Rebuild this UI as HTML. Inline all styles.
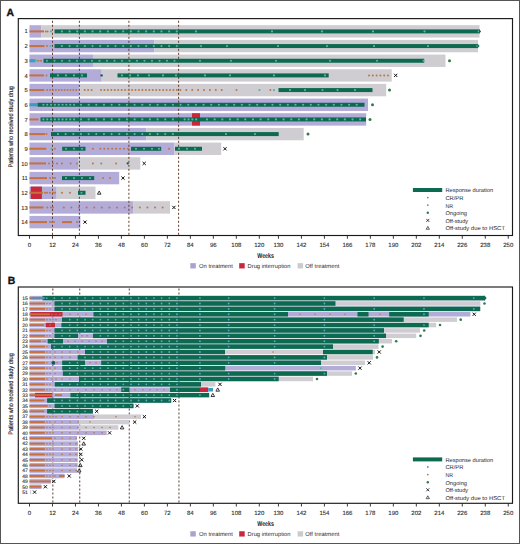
<!DOCTYPE html>
<html><head><meta charset="utf-8"><style>
html,body{margin:0;padding:0;background:#fff;}
svg{display:block;font-family:"Liberation Sans", sans-serif;text-rendering:geometricPrecision;}
</style></head><body>
<svg width="520" height="544" viewBox="0 0 520 544">
<rect x="0" y="0" width="520" height="544" fill="#fff"/>
<text x="6.40" y="15.90" font-size="10.4" text-anchor="start" font-weight="bold" fill="#111" stroke="#111" stroke-width="0.35">A</text>
<rect x="29.50" y="25.20" width="12.00" height="12.40" fill="#b3abd8"/>
<rect x="41.50" y="25.20" width="438.00" height="12.40" fill="#cfcdd2"/>
<rect x="29.50" y="39.87" width="125.00" height="12.40" fill="#b3abd8"/>
<rect x="154.50" y="39.87" width="323.50" height="12.40" fill="#cfcdd2"/>
<rect x="29.50" y="54.54" width="63.50" height="12.40" fill="#b3abd8"/>
<rect x="93.00" y="54.54" width="352.50" height="12.40" fill="#cfcdd2"/>
<rect x="29.50" y="69.21" width="72.20" height="12.40" fill="#b3abd8"/>
<rect x="101.70" y="69.21" width="290.00" height="12.40" fill="#cfcdd2"/>
<rect x="29.50" y="83.88" width="49.70" height="12.40" fill="#b3abd8"/>
<rect x="79.20" y="83.88" width="307.00" height="12.40" fill="#cfcdd2"/>
<rect x="29.50" y="98.55" width="338.50" height="12.40" fill="#b3abd8"/>
<rect x="29.50" y="113.22" width="336.70" height="12.40" fill="#b3abd8"/>
<rect x="192.00" y="113.22" width="8.00" height="12.40" fill="#c8283a"/>
<rect x="29.50" y="127.89" width="116.70" height="12.40" fill="#b3abd8"/>
<rect x="146.20" y="127.89" width="157.50" height="12.40" fill="#cfcdd2"/>
<rect x="29.50" y="142.56" width="145.00" height="12.40" fill="#b3abd8"/>
<rect x="174.50" y="142.56" width="46.70" height="12.40" fill="#cfcdd2"/>
<rect x="29.50" y="157.23" width="48.50" height="12.40" fill="#b3abd8"/>
<rect x="78.00" y="157.23" width="62.30" height="12.40" fill="#cfcdd2"/>
<rect x="29.50" y="171.90" width="89.70" height="12.40" fill="#b3abd8"/>
<rect x="29.50" y="186.57" width="27.20" height="12.40" fill="#b3abd8"/>
<rect x="56.70" y="186.57" width="38.80" height="12.40" fill="#cfcdd2"/>
<rect x="30.80" y="186.57" width="11.10" height="12.40" fill="#c8283a"/>
<rect x="29.50" y="201.24" width="104.00" height="12.40" fill="#b3abd8"/>
<rect x="133.50" y="201.24" width="36.50" height="12.40" fill="#cfcdd2"/>
<rect x="29.50" y="215.91" width="50.90" height="12.40" fill="#b3abd8"/>
<line x1="52.50" y1="20.80" x2="52.50" y2="235.50" stroke="#663a28" stroke-width="1.0" stroke-dasharray="2 2"/>
<line x1="79.40" y1="20.80" x2="79.40" y2="235.50" stroke="#663a28" stroke-width="1.0" stroke-dasharray="2 2"/>
<line x1="128.90" y1="20.80" x2="128.90" y2="235.50" stroke="#663a28" stroke-width="1.0" stroke-dasharray="2 2"/>
<line x1="178.60" y1="20.80" x2="178.60" y2="235.50" stroke="#663a28" stroke-width="1.0" stroke-dasharray="2 2"/>
<rect x="29.50" y="30.40" width="14.50" height="2.00" fill="#c8703c"/>
<rect x="54.50" y="29.40" width="425.00" height="4.00" fill="#0c6a50"/>
<circle cx="45.80" cy="31.40" r="1.00" fill="#b87845"/>
<circle cx="47.60" cy="31.40" r="1.00" fill="#b87845"/>
<circle cx="51.00" cy="31.40" r="1.10" fill="#5cb39f"/>
<circle cx="196.00" cy="31.40" r="1.10" fill="#5cb39f"/>
<circle cx="272.00" cy="31.40" r="1.10" fill="#5cb39f"/>
<circle cx="322.00" cy="31.40" r="1.10" fill="#5cb39f"/>
<circle cx="373.00" cy="31.40" r="1.10" fill="#5cb39f"/>
<circle cx="424.50" cy="31.40" r="1.10" fill="#5cb39f"/>
<circle cx="478.80" cy="31.40" r="1.10" fill="#5cb39f"/>
<circle cx="61.90" cy="31.40" r="1.10" fill="#5cb39f"/>
<circle cx="69.56" cy="31.40" r="1.10" fill="#5cb39f"/>
<circle cx="77.22" cy="31.40" r="1.10" fill="#5cb39f"/>
<circle cx="84.88" cy="31.40" r="1.10" fill="#5cb39f"/>
<circle cx="92.54" cy="31.40" r="1.10" fill="#5cb39f"/>
<circle cx="100.20" cy="31.40" r="1.10" fill="#5cb39f"/>
<circle cx="107.86" cy="31.40" r="1.10" fill="#5cb39f"/>
<circle cx="115.52" cy="31.40" r="1.10" fill="#5cb39f"/>
<circle cx="123.18" cy="31.40" r="1.10" fill="#5cb39f"/>
<circle cx="130.84" cy="31.40" r="1.10" fill="#5cb39f"/>
<circle cx="138.50" cy="31.40" r="1.10" fill="#5cb39f"/>
<circle cx="146.16" cy="31.40" r="1.10" fill="#5cb39f"/>
<circle cx="153.82" cy="31.40" r="1.10" fill="#5cb39f"/>
<circle cx="161.48" cy="31.40" r="1.10" fill="#5cb39f"/>
<circle cx="169.14" cy="31.40" r="1.10" fill="#5cb39f"/>
<circle cx="176.80" cy="31.40" r="1.10" fill="#5cb39f"/>
<path d="M479.00 29.10L481.10 31.40L479.00 33.70Z" fill="#0c6a50"/>
<rect x="29.50" y="45.07" width="15.00" height="2.00" fill="#c8703c"/>
<rect x="54.50" y="44.07" width="423.50" height="4.00" fill="#0c6a50"/>
<circle cx="47.00" cy="46.07" r="1.00" fill="#b87845"/>
<circle cx="50.50" cy="46.07" r="1.10" fill="#5cb39f"/>
<circle cx="201.00" cy="46.07" r="1.10" fill="#5cb39f"/>
<circle cx="227.00" cy="46.07" r="1.10" fill="#5cb39f"/>
<circle cx="278.00" cy="46.07" r="1.10" fill="#5cb39f"/>
<circle cx="327.00" cy="46.07" r="1.10" fill="#5cb39f"/>
<circle cx="374.00" cy="46.07" r="1.10" fill="#5cb39f"/>
<circle cx="428.00" cy="46.07" r="1.10" fill="#5cb39f"/>
<circle cx="477.30" cy="46.07" r="1.10" fill="#5cb39f"/>
<circle cx="61.90" cy="46.07" r="1.10" fill="#5cb39f"/>
<circle cx="69.56" cy="46.07" r="1.10" fill="#5cb39f"/>
<circle cx="77.22" cy="46.07" r="1.10" fill="#5cb39f"/>
<circle cx="84.88" cy="46.07" r="1.10" fill="#5cb39f"/>
<circle cx="92.54" cy="46.07" r="1.10" fill="#5cb39f"/>
<circle cx="100.20" cy="46.07" r="1.10" fill="#5cb39f"/>
<circle cx="107.86" cy="46.07" r="1.10" fill="#5cb39f"/>
<circle cx="115.52" cy="46.07" r="1.10" fill="#5cb39f"/>
<circle cx="123.18" cy="46.07" r="1.10" fill="#5cb39f"/>
<circle cx="130.84" cy="46.07" r="1.10" fill="#5cb39f"/>
<circle cx="138.50" cy="46.07" r="1.10" fill="#5cb39f"/>
<circle cx="146.16" cy="46.07" r="1.10" fill="#5cb39f"/>
<circle cx="153.82" cy="46.07" r="1.10" fill="#5cb39f"/>
<circle cx="161.48" cy="46.07" r="1.10" fill="#5cb39f"/>
<circle cx="169.14" cy="46.07" r="1.10" fill="#5cb39f"/>
<circle cx="176.80" cy="46.07" r="1.10" fill="#5cb39f"/>
<path d="M477.50 43.77L479.60 46.07L477.50 48.37Z" fill="#0c6a50"/>
<rect x="29.50" y="59.14" width="6.00" height="3.20" fill="#3b9dc0"/>
<rect x="43.50" y="58.74" width="380.70" height="4.00" fill="#0c6a50"/>
<circle cx="38.50" cy="60.74" r="1.00" fill="#b87845"/>
<circle cx="41.00" cy="60.74" r="1.00" fill="#b87845"/>
<circle cx="37.00" cy="60.74" r="1.10" fill="#5cb39f"/>
<circle cx="200.00" cy="60.74" r="1.10" fill="#5cb39f"/>
<circle cx="231.00" cy="60.74" r="1.10" fill="#5cb39f"/>
<circle cx="276.00" cy="60.74" r="1.10" fill="#5cb39f"/>
<circle cx="330.00" cy="60.74" r="1.10" fill="#5cb39f"/>
<circle cx="377.00" cy="60.74" r="1.10" fill="#5cb39f"/>
<circle cx="423.50" cy="60.74" r="1.10" fill="#5cb39f"/>
<circle cx="47.00" cy="60.74" r="1.10" fill="#5cb39f"/>
<circle cx="54.50" cy="60.74" r="1.10" fill="#5cb39f"/>
<circle cx="62.00" cy="60.74" r="1.10" fill="#5cb39f"/>
<circle cx="69.50" cy="60.74" r="1.10" fill="#5cb39f"/>
<circle cx="77.00" cy="60.74" r="1.10" fill="#5cb39f"/>
<circle cx="84.50" cy="60.74" r="1.10" fill="#5cb39f"/>
<circle cx="92.00" cy="60.74" r="1.10" fill="#5cb39f"/>
<circle cx="99.50" cy="60.74" r="1.10" fill="#5cb39f"/>
<circle cx="107.00" cy="60.74" r="1.10" fill="#5cb39f"/>
<circle cx="114.50" cy="60.74" r="1.10" fill="#5cb39f"/>
<circle cx="122.00" cy="60.74" r="1.10" fill="#5cb39f"/>
<circle cx="129.50" cy="60.74" r="1.10" fill="#5cb39f"/>
<circle cx="137.00" cy="60.74" r="1.10" fill="#5cb39f"/>
<circle cx="144.50" cy="60.74" r="1.10" fill="#5cb39f"/>
<circle cx="152.00" cy="60.74" r="1.10" fill="#5cb39f"/>
<circle cx="159.50" cy="60.74" r="1.10" fill="#5cb39f"/>
<circle cx="167.00" cy="60.74" r="1.10" fill="#5cb39f"/>
<circle cx="174.50" cy="60.74" r="1.10" fill="#5cb39f"/>
<circle cx="449.50" cy="60.74" r="1.50" fill="#2f7a47"/>
<rect x="29.50" y="74.41" width="14.50" height="2.00" fill="#c8703c"/>
<rect x="50.00" y="73.41" width="37.00" height="4.00" fill="#0c6a50"/>
<rect x="117.50" y="73.41" width="211.20" height="4.00" fill="#0c6a50"/>
<circle cx="369.00" cy="75.41" r="1.00" fill="#b87845"/>
<circle cx="372.80" cy="75.41" r="1.00" fill="#b87845"/>
<circle cx="376.60" cy="75.41" r="1.00" fill="#b87845"/>
<circle cx="380.40" cy="75.41" r="1.00" fill="#b87845"/>
<circle cx="384.20" cy="75.41" r="1.00" fill="#b87845"/>
<circle cx="388.00" cy="75.41" r="1.00" fill="#b87845"/>
<circle cx="46.50" cy="75.41" r="1.00" fill="#b87845"/>
<circle cx="58.00" cy="75.41" r="1.10" fill="#5cb39f"/>
<circle cx="66.00" cy="75.41" r="1.10" fill="#5cb39f"/>
<circle cx="74.00" cy="75.41" r="1.10" fill="#5cb39f"/>
<circle cx="82.00" cy="75.41" r="1.10" fill="#5cb39f"/>
<circle cx="122.00" cy="75.41" r="1.10" fill="#5cb39f"/>
<circle cx="130.00" cy="75.41" r="1.10" fill="#5cb39f"/>
<circle cx="138.00" cy="75.41" r="1.10" fill="#5cb39f"/>
<circle cx="149.00" cy="75.41" r="1.10" fill="#5cb39f"/>
<circle cx="163.00" cy="75.41" r="1.10" fill="#5cb39f"/>
<circle cx="176.00" cy="75.41" r="1.10" fill="#5cb39f"/>
<circle cx="205.00" cy="75.41" r="1.10" fill="#5cb39f"/>
<circle cx="230.00" cy="75.41" r="1.10" fill="#5cb39f"/>
<circle cx="274.00" cy="75.41" r="1.10" fill="#5cb39f"/>
<circle cx="325.00" cy="75.41" r="1.10" fill="#5cb39f"/>
<circle cx="101.60" cy="75.41" r="1.20" fill="#0d5a55"/>
<path d="M394.10 73.81L397.30 77.01M397.30 73.81L394.10 77.01" stroke="#111" stroke-width="1.0" fill="none"/>
<rect x="29.50" y="89.08" width="14.80" height="2.00" fill="#c8703c"/>
<rect x="278.50" y="88.08" width="94.00" height="4.00" fill="#0c6a50"/>
<circle cx="47.20" cy="90.08" r="1.00" fill="#b87845"/>
<circle cx="50.10" cy="90.08" r="1.00" fill="#b87845"/>
<circle cx="53.00" cy="90.08" r="1.00" fill="#b87845"/>
<circle cx="55.90" cy="90.08" r="1.00" fill="#b87845"/>
<circle cx="58.80" cy="90.08" r="1.00" fill="#b87845"/>
<circle cx="61.70" cy="90.08" r="1.00" fill="#b87845"/>
<circle cx="64.60" cy="90.08" r="1.00" fill="#b87845"/>
<circle cx="67.50" cy="90.08" r="1.00" fill="#b87845"/>
<circle cx="70.40" cy="90.08" r="1.00" fill="#b87845"/>
<circle cx="73.30" cy="90.08" r="1.00" fill="#b87845"/>
<circle cx="76.20" cy="90.08" r="1.00" fill="#b87845"/>
<circle cx="84.70" cy="90.08" r="1.00" fill="#b87845"/>
<circle cx="88.15" cy="90.08" r="1.00" fill="#b87845"/>
<circle cx="91.60" cy="90.08" r="1.00" fill="#b87845"/>
<circle cx="101.00" cy="90.08" r="1.00" fill="#b87845"/>
<circle cx="104.45" cy="90.08" r="1.00" fill="#b87845"/>
<circle cx="107.90" cy="90.08" r="1.00" fill="#b87845"/>
<circle cx="111.35" cy="90.08" r="1.00" fill="#b87845"/>
<circle cx="114.80" cy="90.08" r="1.00" fill="#b87845"/>
<circle cx="118.25" cy="90.08" r="1.00" fill="#b87845"/>
<circle cx="121.70" cy="90.08" r="1.00" fill="#b87845"/>
<circle cx="125.15" cy="90.08" r="1.00" fill="#b87845"/>
<circle cx="128.60" cy="90.08" r="1.00" fill="#b87845"/>
<circle cx="132.05" cy="90.08" r="1.00" fill="#b87845"/>
<circle cx="135.50" cy="90.08" r="1.00" fill="#b87845"/>
<circle cx="138.95" cy="90.08" r="1.00" fill="#b87845"/>
<circle cx="142.40" cy="90.08" r="1.00" fill="#b87845"/>
<circle cx="145.85" cy="90.08" r="1.00" fill="#b87845"/>
<circle cx="149.30" cy="90.08" r="1.00" fill="#b87845"/>
<circle cx="152.75" cy="90.08" r="1.00" fill="#b87845"/>
<circle cx="156.20" cy="90.08" r="1.00" fill="#b87845"/>
<circle cx="159.65" cy="90.08" r="1.00" fill="#b87845"/>
<circle cx="163.10" cy="90.08" r="1.00" fill="#b87845"/>
<circle cx="166.55" cy="90.08" r="1.00" fill="#b87845"/>
<circle cx="170.00" cy="90.08" r="1.00" fill="#b87845"/>
<circle cx="173.45" cy="90.08" r="1.00" fill="#b87845"/>
<circle cx="176.90" cy="90.08" r="1.00" fill="#b87845"/>
<circle cx="180.35" cy="90.08" r="1.00" fill="#b87845"/>
<circle cx="186.30" cy="90.08" r="1.00" fill="#b87845"/>
<circle cx="192.20" cy="90.08" r="1.00" fill="#b87845"/>
<circle cx="198.10" cy="90.08" r="1.00" fill="#b87845"/>
<circle cx="204.00" cy="90.08" r="1.00" fill="#b87845"/>
<circle cx="209.90" cy="90.08" r="1.00" fill="#b87845"/>
<circle cx="215.80" cy="90.08" r="1.00" fill="#b87845"/>
<circle cx="221.70" cy="90.08" r="1.00" fill="#b87845"/>
<circle cx="236.50" cy="90.08" r="1.00" fill="#b87845"/>
<circle cx="270.40" cy="90.08" r="1.00" fill="#b87845"/>
<circle cx="259.40" cy="90.08" r="1.10" fill="#5cb39f"/>
<circle cx="274.00" cy="90.08" r="1.10" fill="#5cb39f"/>
<circle cx="290.00" cy="90.08" r="1.10" fill="#5cb39f"/>
<circle cx="305.00" cy="90.08" r="1.10" fill="#5cb39f"/>
<circle cx="322.50" cy="90.08" r="1.10" fill="#5cb39f"/>
<circle cx="337.50" cy="90.08" r="1.10" fill="#5cb39f"/>
<circle cx="355.00" cy="90.08" r="1.10" fill="#5cb39f"/>
<circle cx="389.50" cy="90.08" r="1.50" fill="#2f7a47"/>
<rect x="29.50" y="103.15" width="8.10" height="3.20" fill="#3b9dc0"/>
<rect x="37.60" y="102.75" width="326.90" height="4.00" fill="#0c6a50"/>
<circle cx="43.40" cy="104.75" r="1.10" fill="#5cb39f"/>
<circle cx="47.23" cy="104.75" r="1.10" fill="#5cb39f"/>
<circle cx="51.06" cy="104.75" r="1.10" fill="#5cb39f"/>
<circle cx="54.89" cy="104.75" r="1.10" fill="#5cb39f"/>
<circle cx="58.72" cy="104.75" r="1.10" fill="#5cb39f"/>
<circle cx="62.55" cy="104.75" r="1.10" fill="#5cb39f"/>
<circle cx="66.38" cy="104.75" r="1.10" fill="#5cb39f"/>
<circle cx="70.21" cy="104.75" r="1.10" fill="#5cb39f"/>
<circle cx="74.04" cy="104.75" r="1.10" fill="#5cb39f"/>
<circle cx="81.00" cy="104.75" r="1.10" fill="#5cb39f"/>
<circle cx="88.66" cy="104.75" r="1.10" fill="#5cb39f"/>
<circle cx="96.32" cy="104.75" r="1.10" fill="#5cb39f"/>
<circle cx="103.98" cy="104.75" r="1.10" fill="#5cb39f"/>
<circle cx="111.64" cy="104.75" r="1.10" fill="#5cb39f"/>
<circle cx="119.30" cy="104.75" r="1.10" fill="#5cb39f"/>
<circle cx="126.96" cy="104.75" r="1.10" fill="#5cb39f"/>
<circle cx="134.62" cy="104.75" r="1.10" fill="#5cb39f"/>
<circle cx="142.28" cy="104.75" r="1.10" fill="#5cb39f"/>
<circle cx="149.94" cy="104.75" r="1.10" fill="#5cb39f"/>
<circle cx="157.60" cy="104.75" r="1.10" fill="#5cb39f"/>
<circle cx="165.26" cy="104.75" r="1.10" fill="#5cb39f"/>
<circle cx="172.92" cy="104.75" r="1.10" fill="#5cb39f"/>
<circle cx="180.58" cy="104.75" r="1.10" fill="#5cb39f"/>
<circle cx="188.24" cy="104.75" r="1.10" fill="#5cb39f"/>
<circle cx="195.90" cy="104.75" r="1.10" fill="#5cb39f"/>
<circle cx="203.56" cy="104.75" r="1.10" fill="#5cb39f"/>
<circle cx="211.22" cy="104.75" r="1.10" fill="#5cb39f"/>
<circle cx="218.88" cy="104.75" r="1.10" fill="#5cb39f"/>
<circle cx="226.54" cy="104.75" r="1.10" fill="#5cb39f"/>
<circle cx="234.20" cy="104.75" r="1.10" fill="#5cb39f"/>
<circle cx="241.86" cy="104.75" r="1.10" fill="#5cb39f"/>
<circle cx="249.52" cy="104.75" r="1.10" fill="#5cb39f"/>
<circle cx="257.18" cy="104.75" r="1.10" fill="#5cb39f"/>
<circle cx="264.84" cy="104.75" r="1.10" fill="#5cb39f"/>
<circle cx="272.50" cy="104.75" r="1.10" fill="#5cb39f"/>
<circle cx="280.16" cy="104.75" r="1.10" fill="#5cb39f"/>
<circle cx="287.82" cy="104.75" r="1.10" fill="#5cb39f"/>
<circle cx="295.48" cy="104.75" r="1.10" fill="#5cb39f"/>
<circle cx="303.14" cy="104.75" r="1.10" fill="#5cb39f"/>
<circle cx="310.80" cy="104.75" r="1.10" fill="#5cb39f"/>
<circle cx="318.46" cy="104.75" r="1.10" fill="#5cb39f"/>
<circle cx="326.12" cy="104.75" r="1.10" fill="#5cb39f"/>
<circle cx="333.78" cy="104.75" r="1.10" fill="#5cb39f"/>
<circle cx="341.44" cy="104.75" r="1.10" fill="#5cb39f"/>
<circle cx="349.10" cy="104.75" r="1.10" fill="#5cb39f"/>
<circle cx="356.76" cy="104.75" r="1.10" fill="#5cb39f"/>
<circle cx="372.50" cy="104.75" r="1.50" fill="#2f7a47"/>
<rect x="29.50" y="118.42" width="9.10" height="2.00" fill="#c8703c"/>
<rect x="40.50" y="117.42" width="325.50" height="4.00" fill="#0c6a50"/>
<circle cx="43.40" cy="119.42" r="1.10" fill="#5cb39f"/>
<circle cx="47.23" cy="119.42" r="1.10" fill="#5cb39f"/>
<circle cx="51.06" cy="119.42" r="1.10" fill="#5cb39f"/>
<circle cx="54.89" cy="119.42" r="1.10" fill="#5cb39f"/>
<circle cx="58.72" cy="119.42" r="1.10" fill="#5cb39f"/>
<circle cx="62.55" cy="119.42" r="1.10" fill="#5cb39f"/>
<circle cx="66.38" cy="119.42" r="1.10" fill="#5cb39f"/>
<circle cx="70.21" cy="119.42" r="1.10" fill="#5cb39f"/>
<circle cx="74.04" cy="119.42" r="1.10" fill="#5cb39f"/>
<circle cx="81.00" cy="119.42" r="1.10" fill="#5cb39f"/>
<circle cx="88.66" cy="119.42" r="1.10" fill="#5cb39f"/>
<circle cx="96.32" cy="119.42" r="1.10" fill="#5cb39f"/>
<circle cx="103.98" cy="119.42" r="1.10" fill="#5cb39f"/>
<circle cx="111.64" cy="119.42" r="1.10" fill="#5cb39f"/>
<circle cx="119.30" cy="119.42" r="1.10" fill="#5cb39f"/>
<circle cx="126.96" cy="119.42" r="1.10" fill="#5cb39f"/>
<circle cx="134.62" cy="119.42" r="1.10" fill="#5cb39f"/>
<circle cx="142.28" cy="119.42" r="1.10" fill="#5cb39f"/>
<circle cx="149.94" cy="119.42" r="1.10" fill="#5cb39f"/>
<circle cx="157.60" cy="119.42" r="1.10" fill="#5cb39f"/>
<circle cx="165.26" cy="119.42" r="1.10" fill="#5cb39f"/>
<circle cx="172.92" cy="119.42" r="1.10" fill="#5cb39f"/>
<circle cx="184.70" cy="119.42" r="1.10" fill="#5cb39f"/>
<circle cx="188.53" cy="119.42" r="1.10" fill="#5cb39f"/>
<circle cx="192.36" cy="119.42" r="1.10" fill="#5cb39f"/>
<circle cx="196.19" cy="119.42" r="1.10" fill="#5cb39f"/>
<circle cx="207.00" cy="119.42" r="1.10" fill="#5cb39f"/>
<circle cx="214.66" cy="119.42" r="1.10" fill="#5cb39f"/>
<circle cx="222.32" cy="119.42" r="1.10" fill="#5cb39f"/>
<circle cx="229.98" cy="119.42" r="1.10" fill="#5cb39f"/>
<circle cx="237.64" cy="119.42" r="1.10" fill="#5cb39f"/>
<circle cx="245.30" cy="119.42" r="1.10" fill="#5cb39f"/>
<circle cx="252.96" cy="119.42" r="1.10" fill="#5cb39f"/>
<circle cx="260.62" cy="119.42" r="1.10" fill="#5cb39f"/>
<circle cx="268.28" cy="119.42" r="1.10" fill="#5cb39f"/>
<circle cx="275.94" cy="119.42" r="1.10" fill="#5cb39f"/>
<circle cx="283.60" cy="119.42" r="1.10" fill="#5cb39f"/>
<circle cx="291.26" cy="119.42" r="1.10" fill="#5cb39f"/>
<circle cx="298.92" cy="119.42" r="1.10" fill="#5cb39f"/>
<circle cx="306.58" cy="119.42" r="1.10" fill="#5cb39f"/>
<circle cx="314.24" cy="119.42" r="1.10" fill="#5cb39f"/>
<circle cx="321.90" cy="119.42" r="1.10" fill="#5cb39f"/>
<circle cx="329.56" cy="119.42" r="1.10" fill="#5cb39f"/>
<circle cx="337.22" cy="119.42" r="1.10" fill="#5cb39f"/>
<circle cx="344.88" cy="119.42" r="1.10" fill="#5cb39f"/>
<circle cx="352.54" cy="119.42" r="1.10" fill="#5cb39f"/>
<circle cx="360.20" cy="119.42" r="1.10" fill="#5cb39f"/>
<circle cx="370.00" cy="119.42" r="1.50" fill="#2f7a47"/>
<rect x="29.50" y="133.09" width="15.50" height="2.00" fill="#c8703c"/>
<rect x="51.00" y="132.09" width="227.70" height="4.00" fill="#0c6a50"/>
<circle cx="46.50" cy="134.09" r="1.00" fill="#b87845"/>
<circle cx="226.00" cy="134.09" r="1.10" fill="#5cb39f"/>
<circle cx="255.00" cy="134.09" r="1.10" fill="#5cb39f"/>
<circle cx="58.00" cy="134.09" r="1.10" fill="#5cb39f"/>
<circle cx="65.66" cy="134.09" r="1.10" fill="#5cb39f"/>
<circle cx="73.32" cy="134.09" r="1.10" fill="#5cb39f"/>
<circle cx="80.98" cy="134.09" r="1.10" fill="#5cb39f"/>
<circle cx="88.64" cy="134.09" r="1.10" fill="#5cb39f"/>
<circle cx="96.30" cy="134.09" r="1.10" fill="#5cb39f"/>
<circle cx="103.96" cy="134.09" r="1.10" fill="#5cb39f"/>
<circle cx="111.62" cy="134.09" r="1.10" fill="#5cb39f"/>
<circle cx="119.28" cy="134.09" r="1.10" fill="#5cb39f"/>
<circle cx="126.94" cy="134.09" r="1.10" fill="#5cb39f"/>
<circle cx="134.60" cy="134.09" r="1.10" fill="#5cb39f"/>
<circle cx="142.26" cy="134.09" r="1.10" fill="#5cb39f"/>
<circle cx="149.92" cy="134.09" r="1.10" fill="#5cb39f"/>
<circle cx="157.58" cy="134.09" r="1.10" fill="#5cb39f"/>
<circle cx="165.24" cy="134.09" r="1.10" fill="#5cb39f"/>
<circle cx="172.90" cy="134.09" r="1.10" fill="#5cb39f"/>
<circle cx="308.00" cy="134.09" r="1.50" fill="#2f7a47"/>
<rect x="29.50" y="147.76" width="16.80" height="2.00" fill="#c8703c"/>
<rect x="62.20" y="146.76" width="23.30" height="4.00" fill="#0c6a50"/>
<rect x="131.00" y="146.76" width="30.20" height="4.00" fill="#0c6a50"/>
<rect x="175.00" y="146.76" width="27.00" height="4.00" fill="#0c6a50"/>
<circle cx="100.30" cy="148.76" r="1.00" fill="#b87845"/>
<circle cx="104.25" cy="148.76" r="1.00" fill="#b87845"/>
<circle cx="108.20" cy="148.76" r="1.00" fill="#b87845"/>
<circle cx="112.15" cy="148.76" r="1.00" fill="#b87845"/>
<circle cx="116.10" cy="148.76" r="1.00" fill="#b87845"/>
<circle cx="120.05" cy="148.76" r="1.00" fill="#b87845"/>
<circle cx="124.00" cy="148.76" r="1.00" fill="#b87845"/>
<circle cx="127.95" cy="148.76" r="1.00" fill="#b87845"/>
<circle cx="54.80" cy="148.76" r="1.00" fill="#b87845"/>
<circle cx="92.90" cy="148.76" r="1.00" fill="#b87845"/>
<circle cx="169.00" cy="148.76" r="1.00" fill="#b87845"/>
<circle cx="51.50" cy="148.76" r="1.10" fill="#5cb39f"/>
<circle cx="66.00" cy="148.76" r="1.10" fill="#5cb39f"/>
<circle cx="74.00" cy="148.76" r="1.10" fill="#5cb39f"/>
<circle cx="82.00" cy="148.76" r="1.10" fill="#5cb39f"/>
<circle cx="136.00" cy="148.76" r="1.10" fill="#5cb39f"/>
<circle cx="144.00" cy="148.76" r="1.10" fill="#5cb39f"/>
<circle cx="152.00" cy="148.76" r="1.10" fill="#5cb39f"/>
<circle cx="159.00" cy="148.76" r="1.10" fill="#5cb39f"/>
<circle cx="179.00" cy="148.76" r="1.10" fill="#5cb39f"/>
<circle cx="187.00" cy="148.76" r="1.10" fill="#5cb39f"/>
<circle cx="195.00" cy="148.76" r="1.10" fill="#5cb39f"/>
<path d="M223.40 147.16L226.60 150.36M226.60 147.16L223.40 150.36" stroke="#111" stroke-width="1.0" fill="none"/>
<rect x="29.50" y="162.43" width="16.50" height="2.00" fill="#c8703c"/>
<circle cx="49.00" cy="163.43" r="1.00" fill="#b87845"/>
<circle cx="53.00" cy="163.43" r="1.00" fill="#b87845"/>
<circle cx="57.00" cy="163.43" r="1.00" fill="#b87845"/>
<circle cx="62.00" cy="163.43" r="1.00" fill="#b87845"/>
<circle cx="70.60" cy="163.43" r="1.00" fill="#b87845"/>
<circle cx="77.00" cy="163.43" r="1.00" fill="#b87845"/>
<circle cx="92.90" cy="163.43" r="1.00" fill="#b87845"/>
<circle cx="101.30" cy="163.43" r="1.00" fill="#b87845"/>
<circle cx="116.10" cy="163.43" r="1.00" fill="#b87845"/>
<circle cx="127.70" cy="163.43" r="1.10" fill="#0d5a55"/>
<path d="M142.60 161.83L145.80 165.03M145.80 161.83L142.60 165.03" stroke="#111" stroke-width="1.0" fill="none"/>
<rect x="29.50" y="177.10" width="17.50" height="2.00" fill="#c8703c"/>
<rect x="62.00" y="176.10" width="32.20" height="4.00" fill="#0c6a50"/>
<circle cx="50.00" cy="178.10" r="1.00" fill="#b87845"/>
<circle cx="53.00" cy="178.10" r="1.00" fill="#b87845"/>
<circle cx="55.00" cy="178.10" r="1.00" fill="#b87845"/>
<circle cx="103.00" cy="178.10" r="1.00" fill="#b87845"/>
<circle cx="110.00" cy="178.10" r="1.00" fill="#b87845"/>
<circle cx="66.00" cy="178.10" r="1.10" fill="#5cb39f"/>
<circle cx="74.00" cy="178.10" r="1.10" fill="#5cb39f"/>
<circle cx="82.00" cy="178.10" r="1.10" fill="#5cb39f"/>
<circle cx="90.00" cy="178.10" r="1.10" fill="#5cb39f"/>
<path d="M121.40 176.50L124.60 179.70M124.60 176.50L121.40 179.70" stroke="#111" stroke-width="1.0" fill="none"/>
<rect x="29.50" y="191.77" width="13.50" height="2.00" fill="#c8703c"/>
<rect x="78.00" y="190.77" width="7.50" height="4.00" fill="#0c6a50"/>
<circle cx="45.00" cy="192.77" r="1.00" fill="#b87845"/>
<circle cx="47.00" cy="192.77" r="1.00" fill="#b87845"/>
<circle cx="50.00" cy="192.77" r="1.00" fill="#b87845"/>
<circle cx="53.00" cy="192.77" r="1.00" fill="#b87845"/>
<circle cx="55.00" cy="192.77" r="1.00" fill="#b87845"/>
<circle cx="62.00" cy="192.77" r="1.00" fill="#b87845"/>
<circle cx="70.00" cy="192.77" r="1.00" fill="#b87845"/>
<circle cx="81.50" cy="192.77" r="1.10" fill="#5cb39f"/>
<path d="M99.20 190.97L101.00 194.21L97.40 194.21Z" stroke="#222" stroke-width="0.9" fill="none"/>
<rect x="29.50" y="206.44" width="14.00" height="2.00" fill="#c8703c"/>
<circle cx="63.80" cy="207.44" r="1.00" fill="#b87845"/>
<circle cx="71.40" cy="207.44" r="1.00" fill="#b87845"/>
<circle cx="79.00" cy="207.44" r="1.00" fill="#b87845"/>
<circle cx="86.60" cy="207.44" r="1.00" fill="#b87845"/>
<circle cx="94.20" cy="207.44" r="1.00" fill="#b87845"/>
<circle cx="101.80" cy="207.44" r="1.00" fill="#b87845"/>
<circle cx="109.40" cy="207.44" r="1.00" fill="#b87845"/>
<circle cx="117.00" cy="207.44" r="1.00" fill="#b87845"/>
<circle cx="124.60" cy="207.44" r="1.00" fill="#b87845"/>
<circle cx="132.20" cy="207.44" r="1.00" fill="#b87845"/>
<circle cx="139.80" cy="207.44" r="1.00" fill="#b87845"/>
<circle cx="147.40" cy="207.44" r="1.00" fill="#b87845"/>
<circle cx="155.00" cy="207.44" r="1.00" fill="#b87845"/>
<circle cx="162.60" cy="207.44" r="1.00" fill="#b87845"/>
<circle cx="47.30" cy="207.44" r="1.00" fill="#b87845"/>
<circle cx="51.00" cy="207.44" r="1.00" fill="#b87845"/>
<circle cx="53.00" cy="207.44" r="1.00" fill="#b87845"/>
<path d="M172.30 205.84L175.50 209.04M175.50 205.84L172.30 209.04" stroke="#111" stroke-width="1.0" fill="none"/>
<rect x="29.50" y="221.11" width="17.50" height="2.00" fill="#c8703c"/>
<rect x="62.00" y="221.11" width="10.00" height="2.00" fill="#c8703c"/>
<circle cx="50.00" cy="222.11" r="1.00" fill="#b87845"/>
<circle cx="52.00" cy="222.11" r="1.00" fill="#b87845"/>
<circle cx="54.00" cy="222.11" r="1.00" fill="#b87845"/>
<circle cx="77.00" cy="222.11" r="1.00" fill="#b87845"/>
<path d="M83.40 220.51L86.60 223.71M86.60 220.51L83.40 223.71" stroke="#111" stroke-width="1.0" fill="none"/>
<rect x="18.3" y="18.60" width="494.2" height="216.90" fill="none" stroke="#1a1a1a" stroke-width="1.15"/>
<text x="27.80" y="33.49" font-size="5.8" text-anchor="end" font-weight="normal" fill="#2a2a2a" stroke="#2a2a2a" stroke-width="0.1">1</text>
<text x="27.80" y="48.16" font-size="5.8" text-anchor="end" font-weight="normal" fill="#2a2a2a" stroke="#2a2a2a" stroke-width="0.1">2</text>
<text x="27.80" y="62.83" font-size="5.8" text-anchor="end" font-weight="normal" fill="#2a2a2a" stroke="#2a2a2a" stroke-width="0.1">3</text>
<text x="27.80" y="77.50" font-size="5.8" text-anchor="end" font-weight="normal" fill="#2a2a2a" stroke="#2a2a2a" stroke-width="0.1">4</text>
<text x="27.80" y="92.17" font-size="5.8" text-anchor="end" font-weight="normal" fill="#2a2a2a" stroke="#2a2a2a" stroke-width="0.1">5</text>
<text x="27.80" y="106.84" font-size="5.8" text-anchor="end" font-weight="normal" fill="#2a2a2a" stroke="#2a2a2a" stroke-width="0.1">6</text>
<text x="27.80" y="121.51" font-size="5.8" text-anchor="end" font-weight="normal" fill="#2a2a2a" stroke="#2a2a2a" stroke-width="0.1">7</text>
<text x="27.80" y="136.18" font-size="5.8" text-anchor="end" font-weight="normal" fill="#2a2a2a" stroke="#2a2a2a" stroke-width="0.1">8</text>
<text x="27.80" y="150.85" font-size="5.8" text-anchor="end" font-weight="normal" fill="#2a2a2a" stroke="#2a2a2a" stroke-width="0.1">9</text>
<text x="27.80" y="165.52" font-size="5.8" text-anchor="end" font-weight="normal" fill="#2a2a2a" stroke="#2a2a2a" stroke-width="0.1">10</text>
<text x="27.80" y="180.19" font-size="5.8" text-anchor="end" font-weight="normal" fill="#2a2a2a" stroke="#2a2a2a" stroke-width="0.1">11</text>
<text x="27.80" y="194.86" font-size="5.8" text-anchor="end" font-weight="normal" fill="#2a2a2a" stroke="#2a2a2a" stroke-width="0.1">12</text>
<text x="27.80" y="209.53" font-size="5.8" text-anchor="end" font-weight="normal" fill="#2a2a2a" stroke="#2a2a2a" stroke-width="0.1">13</text>
<text x="27.80" y="224.20" font-size="5.8" text-anchor="end" font-weight="normal" fill="#2a2a2a" stroke="#2a2a2a" stroke-width="0.1">14</text>
<line x1="29.50" y1="235.50" x2="29.50" y2="238.70" stroke="#222" stroke-width="0.9"/>
<text x="29.50" y="246.70" font-size="6.0" text-anchor="middle" font-weight="normal" fill="#2a2a2a" stroke="#2a2a2a" stroke-width="0.1">0</text>
<line x1="52.48" y1="235.50" x2="52.48" y2="238.70" stroke="#222" stroke-width="0.9"/>
<text x="52.48" y="246.70" font-size="6.0" text-anchor="middle" font-weight="normal" fill="#2a2a2a" stroke="#2a2a2a" stroke-width="0.1">12</text>
<line x1="75.46" y1="235.50" x2="75.46" y2="238.70" stroke="#222" stroke-width="0.9"/>
<text x="75.46" y="246.70" font-size="6.0" text-anchor="middle" font-weight="normal" fill="#2a2a2a" stroke="#2a2a2a" stroke-width="0.1">24</text>
<line x1="98.44" y1="235.50" x2="98.44" y2="238.70" stroke="#222" stroke-width="0.9"/>
<text x="98.44" y="246.70" font-size="6.0" text-anchor="middle" font-weight="normal" fill="#2a2a2a" stroke="#2a2a2a" stroke-width="0.1">36</text>
<line x1="121.42" y1="235.50" x2="121.42" y2="238.70" stroke="#222" stroke-width="0.9"/>
<text x="121.42" y="246.70" font-size="6.0" text-anchor="middle" font-weight="normal" fill="#2a2a2a" stroke="#2a2a2a" stroke-width="0.1">48</text>
<line x1="144.40" y1="235.50" x2="144.40" y2="238.70" stroke="#222" stroke-width="0.9"/>
<text x="144.40" y="246.70" font-size="6.0" text-anchor="middle" font-weight="normal" fill="#2a2a2a" stroke="#2a2a2a" stroke-width="0.1">60</text>
<line x1="167.38" y1="235.50" x2="167.38" y2="238.70" stroke="#222" stroke-width="0.9"/>
<text x="167.38" y="246.70" font-size="6.0" text-anchor="middle" font-weight="normal" fill="#2a2a2a" stroke="#2a2a2a" stroke-width="0.1">72</text>
<line x1="190.36" y1="235.50" x2="190.36" y2="238.70" stroke="#222" stroke-width="0.9"/>
<text x="190.36" y="246.70" font-size="6.0" text-anchor="middle" font-weight="normal" fill="#2a2a2a" stroke="#2a2a2a" stroke-width="0.1">84</text>
<line x1="213.34" y1="235.50" x2="213.34" y2="238.70" stroke="#222" stroke-width="0.9"/>
<text x="213.34" y="246.70" font-size="6.0" text-anchor="middle" font-weight="normal" fill="#2a2a2a" stroke="#2a2a2a" stroke-width="0.1">96</text>
<line x1="236.32" y1="235.50" x2="236.32" y2="238.70" stroke="#222" stroke-width="0.9"/>
<text x="236.32" y="246.70" font-size="6.0" text-anchor="middle" font-weight="normal" fill="#2a2a2a" stroke="#2a2a2a" stroke-width="0.1">108</text>
<line x1="259.30" y1="235.50" x2="259.30" y2="238.70" stroke="#222" stroke-width="0.9"/>
<text x="259.30" y="246.70" font-size="6.0" text-anchor="middle" font-weight="normal" fill="#2a2a2a" stroke="#2a2a2a" stroke-width="0.1">120</text>
<line x1="278.45" y1="235.50" x2="278.45" y2="238.70" stroke="#222" stroke-width="0.9"/>
<text x="278.45" y="246.70" font-size="6.0" text-anchor="middle" font-weight="normal" fill="#2a2a2a" stroke="#2a2a2a" stroke-width="0.1">130</text>
<line x1="301.43" y1="235.50" x2="301.43" y2="238.70" stroke="#222" stroke-width="0.9"/>
<text x="301.43" y="246.70" font-size="6.0" text-anchor="middle" font-weight="normal" fill="#2a2a2a" stroke="#2a2a2a" stroke-width="0.1">142</text>
<line x1="324.41" y1="235.50" x2="324.41" y2="238.70" stroke="#222" stroke-width="0.9"/>
<text x="324.41" y="246.70" font-size="6.0" text-anchor="middle" font-weight="normal" fill="#2a2a2a" stroke="#2a2a2a" stroke-width="0.1">154</text>
<line x1="347.39" y1="235.50" x2="347.39" y2="238.70" stroke="#222" stroke-width="0.9"/>
<text x="347.39" y="246.70" font-size="6.0" text-anchor="middle" font-weight="normal" fill="#2a2a2a" stroke="#2a2a2a" stroke-width="0.1">166</text>
<line x1="370.37" y1="235.50" x2="370.37" y2="238.70" stroke="#222" stroke-width="0.9"/>
<text x="370.37" y="246.70" font-size="6.0" text-anchor="middle" font-weight="normal" fill="#2a2a2a" stroke="#2a2a2a" stroke-width="0.1">178</text>
<line x1="393.35" y1="235.50" x2="393.35" y2="238.70" stroke="#222" stroke-width="0.9"/>
<text x="393.35" y="246.70" font-size="6.0" text-anchor="middle" font-weight="normal" fill="#2a2a2a" stroke="#2a2a2a" stroke-width="0.1">190</text>
<line x1="416.33" y1="235.50" x2="416.33" y2="238.70" stroke="#222" stroke-width="0.9"/>
<text x="416.33" y="246.70" font-size="6.0" text-anchor="middle" font-weight="normal" fill="#2a2a2a" stroke="#2a2a2a" stroke-width="0.1">202</text>
<line x1="439.31" y1="235.50" x2="439.31" y2="238.70" stroke="#222" stroke-width="0.9"/>
<text x="439.31" y="246.70" font-size="6.0" text-anchor="middle" font-weight="normal" fill="#2a2a2a" stroke="#2a2a2a" stroke-width="0.1">214</text>
<line x1="462.29" y1="235.50" x2="462.29" y2="238.70" stroke="#222" stroke-width="0.9"/>
<text x="462.29" y="246.70" font-size="6.0" text-anchor="middle" font-weight="normal" fill="#2a2a2a" stroke="#2a2a2a" stroke-width="0.1">226</text>
<line x1="485.27" y1="235.50" x2="485.27" y2="238.70" stroke="#222" stroke-width="0.9"/>
<text x="485.27" y="246.70" font-size="6.0" text-anchor="middle" font-weight="normal" fill="#2a2a2a" stroke="#2a2a2a" stroke-width="0.1">238</text>
<line x1="508.25" y1="235.50" x2="508.25" y2="238.70" stroke="#222" stroke-width="0.9"/>
<text x="508.25" y="246.70" font-size="6.0" text-anchor="middle" font-weight="normal" fill="#2a2a2a" stroke="#2a2a2a" stroke-width="0.1">250</text>
<text x="265.6" y="258.00" font-size="7.0" text-anchor="middle" font-weight="bold" fill="#222" textLength="16.6" lengthAdjust="spacingAndGlyphs">Weeks</text>
<text transform="translate(12.9,126.80) rotate(-90)" x="0" y="0" font-size="6.6" text-anchor="middle" fill="#222" stroke="#222" stroke-width="0.15" textLength="81.5" lengthAdjust="spacingAndGlyphs">Patients who received study drug</text>
<rect x="412.90" y="188.00" width="29.30" height="4.00" fill="#0c6a50"/>
<text x="445.40" y="192.30" font-size="5.6" text-anchor="start" font-weight="normal" fill="#2a2a2a" textLength="47.8" lengthAdjust="spacingAndGlyphs">Response duration</text>
<text x="445.40" y="199.90" font-size="5.6" text-anchor="start" font-weight="normal" fill="#2a2a2a" textLength="18.0" lengthAdjust="spacingAndGlyphs">CR/PR</text>
<text x="445.40" y="207.50" font-size="5.6" text-anchor="start" font-weight="normal" fill="#2a2a2a" textLength="7.6" lengthAdjust="spacingAndGlyphs">NR</text>
<text x="445.40" y="215.10" font-size="5.6" text-anchor="start" font-weight="normal" fill="#2a2a2a" textLength="21.6" lengthAdjust="spacingAndGlyphs">Ongoing</text>
<text x="445.40" y="222.70" font-size="5.6" text-anchor="start" font-weight="normal" fill="#2a2a2a" textLength="22.8" lengthAdjust="spacingAndGlyphs">Off-study</text>
<text x="445.40" y="230.30" font-size="5.6" text-anchor="start" font-weight="normal" fill="#2a2a2a" textLength="59.6" lengthAdjust="spacingAndGlyphs">Off-study due to HSCT</text>
<circle cx="427.80" cy="197.60" r="0.90" fill="#5a8fb0"/>
<circle cx="427.80" cy="205.20" r="0.90" fill="#b87845"/>
<circle cx="427.80" cy="212.80" r="1.20" fill="#2f7a47"/>
<path d="M426.30 218.90L429.30 221.90M429.30 218.90L426.30 221.90" stroke="#111" stroke-width="0.8" fill="none"/>
<path d="M427.80 226.40L429.40 229.28L426.20 229.28Z" stroke="#222" stroke-width="0.7" fill="none"/>
<rect x="190.30" y="263.15" width="5.50" height="5.30" fill="#aaa3d2"/>
<text x="199.10" y="267.90" font-size="5.9" text-anchor="start" font-weight="normal" fill="#2a2a2a" textLength="33.8" lengthAdjust="spacingAndGlyphs">On treatment</text>
<rect x="239.20" y="263.15" width="5.50" height="5.30" fill="#c8283a"/>
<text x="247.60" y="267.90" font-size="5.9" text-anchor="start" font-weight="normal" fill="#2a2a2a" textLength="42.8" lengthAdjust="spacingAndGlyphs">Drug interruption</text>
<rect x="297.60" y="263.15" width="5.50" height="5.30" fill="#cbcacd"/>
<text x="305.30" y="267.90" font-size="5.9" text-anchor="start" font-weight="normal" fill="#2a2a2a" textLength="34.0" lengthAdjust="spacingAndGlyphs">Off treatment</text>
<text x="7.70" y="283.70" font-size="10.4" text-anchor="start" font-weight="bold" fill="#111" stroke="#111" stroke-width="0.35">B</text>
<line x1="52.85" y1="288.50" x2="52.85" y2="503.30" stroke="#5a3a30" stroke-width="1.0" stroke-dasharray="2 2"/>
<line x1="79.75" y1="288.50" x2="79.75" y2="503.30" stroke="#5a3a30" stroke-width="1.0" stroke-dasharray="2 2"/>
<line x1="129.25" y1="288.50" x2="129.25" y2="503.30" stroke="#5a3a30" stroke-width="1.0" stroke-dasharray="2 2"/>
<line x1="178.95" y1="288.50" x2="178.95" y2="503.30" stroke="#5a3a30" stroke-width="1.0" stroke-dasharray="2 2"/>
<rect x="29.50" y="295.85" width="455.50" height="4.50" fill="#b3abd8"/>
<rect x="29.50" y="301.24" width="306.00" height="4.50" fill="#b3abd8"/>
<rect x="335.50" y="301.24" width="144.90" height="4.50" fill="#cfcdd2"/>
<rect x="29.50" y="306.63" width="450.70" height="4.50" fill="#b3abd8"/>
<rect x="29.50" y="312.02" width="440.90" height="4.50" fill="#b3abd8"/>
<rect x="30.50" y="312.02" width="32.00" height="4.50" fill="#c8283a"/>
<rect x="29.50" y="317.41" width="32.50" height="4.50" fill="#b3abd8"/>
<rect x="62.00" y="317.41" width="395.00" height="4.50" fill="#cfcdd2"/>
<rect x="29.50" y="322.80" width="31.80" height="4.50" fill="#b3abd8"/>
<rect x="45.80" y="322.80" width="9.20" height="4.50" fill="#c8283a"/>
<rect x="61.30" y="322.80" width="374.90" height="4.50" fill="#cfcdd2"/>
<rect x="29.50" y="328.19" width="354.50" height="4.50" fill="#b3abd8"/>
<rect x="384.00" y="328.19" width="36.00" height="4.50" fill="#cfcdd2"/>
<rect x="29.50" y="333.58" width="356.50" height="4.50" fill="#b3abd8"/>
<rect x="386.00" y="333.58" width="30.20" height="4.50" fill="#cfcdd2"/>
<rect x="29.50" y="338.97" width="349.30" height="4.50" fill="#b3abd8"/>
<rect x="378.80" y="338.97" width="13.20" height="4.50" fill="#cfcdd2"/>
<rect x="29.50" y="344.36" width="303.50" height="4.50" fill="#b3abd8"/>
<rect x="333.00" y="344.36" width="45.50" height="4.50" fill="#cfcdd2"/>
<rect x="29.50" y="349.75" width="195.50" height="4.50" fill="#b3abd8"/>
<rect x="225.00" y="349.75" width="150.00" height="4.50" fill="#cfcdd2"/>
<rect x="29.50" y="355.14" width="297.50" height="4.50" fill="#b3abd8"/>
<rect x="327.00" y="355.14" width="46.00" height="4.50" fill="#cfcdd2"/>
<rect x="29.50" y="360.53" width="291.50" height="4.50" fill="#b3abd8"/>
<rect x="321.00" y="360.53" width="44.00" height="4.50" fill="#cfcdd2"/>
<rect x="29.50" y="365.92" width="326.30" height="4.50" fill="#b3abd8"/>
<rect x="29.50" y="371.31" width="297.50" height="4.50" fill="#b3abd8"/>
<rect x="327.00" y="371.31" width="25.00" height="4.50" fill="#cfcdd2"/>
<rect x="29.50" y="376.70" width="49.50" height="4.50" fill="#b3abd8"/>
<rect x="79.00" y="376.70" width="199.70" height="4.50" fill="#b3abd8"/>
<rect x="278.70" y="376.70" width="34.30" height="4.50" fill="#cfcdd2"/>
<rect x="29.50" y="382.09" width="171.50" height="4.50" fill="#b3abd8"/>
<rect x="201.00" y="382.09" width="14.40" height="4.50" fill="#cfcdd2"/>
<rect x="29.50" y="387.48" width="178.70" height="4.50" fill="#b3abd8"/>
<rect x="200.00" y="387.48" width="8.20" height="4.50" fill="#c8283a"/>
<rect x="29.50" y="392.87" width="40.80" height="4.50" fill="#b3abd8"/>
<rect x="35.00" y="392.87" width="17.30" height="4.50" fill="#c8283a"/>
<rect x="29.50" y="398.26" width="141.70" height="4.50" fill="#b3abd8"/>
<rect x="29.50" y="403.65" width="104.00" height="4.50" fill="#b3abd8"/>
<rect x="29.50" y="409.04" width="63.40" height="4.50" fill="#b3abd8"/>
<rect x="29.50" y="414.43" width="65.10" height="4.50" fill="#b3abd8"/>
<rect x="94.60" y="414.43" width="46.40" height="4.50" fill="#cfcdd2"/>
<rect x="29.50" y="419.82" width="49.50" height="4.50" fill="#b3abd8"/>
<rect x="79.00" y="419.82" width="50.20" height="4.50" fill="#cfcdd2"/>
<rect x="29.50" y="425.21" width="49.30" height="4.50" fill="#b3abd8"/>
<rect x="78.80" y="425.21" width="39.50" height="4.50" fill="#cfcdd2"/>
<rect x="29.50" y="430.60" width="77.20" height="4.50" fill="#b3abd8"/>
<rect x="29.50" y="435.99" width="47.50" height="4.50" fill="#b3abd8"/>
<rect x="29.50" y="441.38" width="48.50" height="4.50" fill="#b3abd8"/>
<rect x="29.50" y="446.77" width="48.50" height="4.50" fill="#b3abd8"/>
<rect x="29.50" y="452.16" width="48.50" height="4.50" fill="#b3abd8"/>
<rect x="29.50" y="457.55" width="48.20" height="4.50" fill="#b3abd8"/>
<rect x="29.50" y="462.94" width="48.20" height="4.50" fill="#b3abd8"/>
<rect x="29.50" y="468.33" width="47.50" height="4.50" fill="#b3abd8"/>
<rect x="29.50" y="473.72" width="35.10" height="4.50" fill="#b3abd8"/>
<rect x="29.50" y="479.11" width="21.30" height="4.50" fill="#b3abd8"/>
<rect x="29.50" y="484.50" width="12.00" height="4.50" fill="#b3abd8"/>
<rect x="30.20" y="489.89" width="1.00" height="4.50" fill="#cfcdd2"/>
<rect x="29.50" y="297.15" width="12.50" height="1.90" fill="#c8703c"/>
<rect x="42.50" y="295.85" width="442.50" height="4.50" fill="#0c6a50"/>
<circle cx="33.50" cy="298.10" r="1.40" fill="#4d8fc4"/>
<circle cx="36.50" cy="298.10" r="1.40" fill="#4d8fc4"/>
<circle cx="39.50" cy="298.10" r="1.40" fill="#4d8fc4"/>
<circle cx="43.50" cy="298.10" r="1.40" fill="#4d8fc4"/>
<circle cx="46.73" cy="298.10" r="0.90" fill="#5aaebb"/>
<circle cx="54.39" cy="298.10" r="0.90" fill="#5aaebb"/>
<circle cx="62.05" cy="298.10" r="0.90" fill="#5aaebb"/>
<circle cx="69.72" cy="298.10" r="0.90" fill="#5aaebb"/>
<circle cx="77.38" cy="298.10" r="0.90" fill="#5aaebb"/>
<circle cx="85.03" cy="298.10" r="0.90" fill="#5aaebb"/>
<circle cx="92.69" cy="298.10" r="0.90" fill="#5aaebb"/>
<circle cx="100.36" cy="298.10" r="0.90" fill="#5aaebb"/>
<circle cx="108.02" cy="298.10" r="0.90" fill="#5aaebb"/>
<circle cx="115.67" cy="298.10" r="0.90" fill="#5aaebb"/>
<circle cx="123.34" cy="298.10" r="0.90" fill="#5aaebb"/>
<circle cx="131.00" cy="298.10" r="0.90" fill="#5aaebb"/>
<circle cx="138.66" cy="298.10" r="0.90" fill="#5aaebb"/>
<circle cx="146.31" cy="298.10" r="0.90" fill="#5aaebb"/>
<circle cx="153.98" cy="298.10" r="0.90" fill="#5aaebb"/>
<circle cx="161.63" cy="298.10" r="0.90" fill="#5aaebb"/>
<circle cx="169.30" cy="298.10" r="0.90" fill="#5aaebb"/>
<circle cx="176.96" cy="298.10" r="0.90" fill="#5aaebb"/>
<circle cx="199.94" cy="298.10" r="0.90" fill="#5aaebb"/>
<circle cx="228.66" cy="298.10" r="0.90" fill="#5aaebb"/>
<circle cx="274.62" cy="298.10" r="0.90" fill="#5aaebb"/>
<circle cx="324.41" cy="298.10" r="0.90" fill="#5aaebb"/>
<circle cx="374.20" cy="298.10" r="0.90" fill="#5aaebb"/>
<circle cx="423.99" cy="298.10" r="0.90" fill="#5aaebb"/>
<circle cx="473.78" cy="298.10" r="0.90" fill="#5aaebb"/>
<path d="M484.50 295.55L486.60 298.10L484.50 300.65Z" fill="#0c6a50"/>
<rect x="29.50" y="302.54" width="15.50" height="1.90" fill="#c8703c"/>
<rect x="54.50" y="301.24" width="281.00" height="4.50" fill="#0c6a50"/>
<circle cx="47.00" cy="303.49" r="0.80" fill="#b87845"/>
<circle cx="50.00" cy="303.49" r="0.80" fill="#b87845"/>
<circle cx="62.05" cy="303.49" r="0.90" fill="#5aaebb"/>
<circle cx="69.72" cy="303.49" r="0.90" fill="#5aaebb"/>
<circle cx="77.38" cy="303.49" r="0.90" fill="#5aaebb"/>
<circle cx="85.03" cy="303.49" r="0.90" fill="#5aaebb"/>
<circle cx="92.69" cy="303.49" r="0.90" fill="#5aaebb"/>
<circle cx="100.36" cy="303.49" r="0.90" fill="#5aaebb"/>
<circle cx="108.02" cy="303.49" r="0.90" fill="#5aaebb"/>
<circle cx="115.67" cy="303.49" r="0.90" fill="#5aaebb"/>
<circle cx="123.34" cy="303.49" r="0.90" fill="#5aaebb"/>
<circle cx="131.00" cy="303.49" r="0.90" fill="#5aaebb"/>
<circle cx="138.66" cy="303.49" r="0.90" fill="#5aaebb"/>
<circle cx="146.31" cy="303.49" r="0.90" fill="#5aaebb"/>
<circle cx="153.98" cy="303.49" r="0.90" fill="#5aaebb"/>
<circle cx="161.63" cy="303.49" r="0.90" fill="#5aaebb"/>
<circle cx="169.30" cy="303.49" r="0.90" fill="#5aaebb"/>
<circle cx="176.96" cy="303.49" r="0.90" fill="#5aaebb"/>
<circle cx="199.94" cy="303.49" r="0.90" fill="#5aaebb"/>
<circle cx="228.66" cy="303.49" r="0.90" fill="#5aaebb"/>
<circle cx="274.62" cy="303.49" r="0.90" fill="#5aaebb"/>
<circle cx="324.41" cy="303.49" r="0.90" fill="#5aaebb"/>
<circle cx="484.50" cy="303.49" r="1.30" fill="#2f7a47"/>
<rect x="29.50" y="307.93" width="15.50" height="1.90" fill="#c8703c"/>
<rect x="54.50" y="306.63" width="425.70" height="4.50" fill="#0c6a50"/>
<circle cx="47.00" cy="308.88" r="0.80" fill="#b87845"/>
<circle cx="50.00" cy="308.88" r="0.80" fill="#b87845"/>
<circle cx="62.05" cy="308.88" r="0.90" fill="#5aaebb"/>
<circle cx="69.72" cy="308.88" r="0.90" fill="#5aaebb"/>
<circle cx="77.38" cy="308.88" r="0.90" fill="#5aaebb"/>
<circle cx="85.03" cy="308.88" r="0.90" fill="#5aaebb"/>
<circle cx="92.69" cy="308.88" r="0.90" fill="#5aaebb"/>
<circle cx="100.36" cy="308.88" r="0.90" fill="#5aaebb"/>
<circle cx="108.02" cy="308.88" r="0.90" fill="#5aaebb"/>
<circle cx="115.67" cy="308.88" r="0.90" fill="#5aaebb"/>
<circle cx="123.34" cy="308.88" r="0.90" fill="#5aaebb"/>
<circle cx="131.00" cy="308.88" r="0.90" fill="#5aaebb"/>
<circle cx="138.66" cy="308.88" r="0.90" fill="#5aaebb"/>
<circle cx="146.31" cy="308.88" r="0.90" fill="#5aaebb"/>
<circle cx="153.98" cy="308.88" r="0.90" fill="#5aaebb"/>
<circle cx="161.63" cy="308.88" r="0.90" fill="#5aaebb"/>
<circle cx="169.30" cy="308.88" r="0.90" fill="#5aaebb"/>
<circle cx="176.96" cy="308.88" r="0.90" fill="#5aaebb"/>
<circle cx="199.94" cy="308.88" r="0.90" fill="#5aaebb"/>
<circle cx="228.66" cy="308.88" r="0.90" fill="#5aaebb"/>
<circle cx="274.62" cy="308.88" r="0.90" fill="#5aaebb"/>
<circle cx="324.41" cy="308.88" r="0.90" fill="#5aaebb"/>
<circle cx="374.20" cy="308.88" r="0.90" fill="#5aaebb"/>
<circle cx="423.99" cy="308.88" r="0.90" fill="#5aaebb"/>
<circle cx="473.78" cy="308.88" r="0.90" fill="#5aaebb"/>
<rect x="29.50" y="313.32" width="20.50" height="1.90" fill="#c8703c"/>
<rect x="93.50" y="312.02" width="194.50" height="4.50" fill="#0c6a50"/>
<rect x="357.50" y="312.02" width="11.00" height="4.50" fill="#0c6a50"/>
<rect x="389.20" y="312.02" width="39.50" height="4.50" fill="#0c6a50"/>
<circle cx="52.00" cy="314.27" r="0.80" fill="#b87845"/>
<circle cx="56.00" cy="314.27" r="0.80" fill="#b87845"/>
<circle cx="60.00" cy="314.27" r="0.80" fill="#b87845"/>
<circle cx="70.00" cy="314.27" r="0.80" fill="#b87845"/>
<circle cx="78.00" cy="314.27" r="0.80" fill="#b87845"/>
<circle cx="86.00" cy="314.27" r="0.80" fill="#b87845"/>
<circle cx="300.00" cy="314.27" r="0.80" fill="#b87845"/>
<circle cx="315.00" cy="314.27" r="0.80" fill="#b87845"/>
<circle cx="330.00" cy="314.27" r="0.80" fill="#b87845"/>
<circle cx="345.00" cy="314.27" r="0.80" fill="#b87845"/>
<circle cx="380.00" cy="314.27" r="0.80" fill="#b87845"/>
<circle cx="100.36" cy="314.27" r="0.90" fill="#5aaebb"/>
<circle cx="108.02" cy="314.27" r="0.90" fill="#5aaebb"/>
<circle cx="115.67" cy="314.27" r="0.90" fill="#5aaebb"/>
<circle cx="123.34" cy="314.27" r="0.90" fill="#5aaebb"/>
<circle cx="131.00" cy="314.27" r="0.90" fill="#5aaebb"/>
<circle cx="138.66" cy="314.27" r="0.90" fill="#5aaebb"/>
<circle cx="146.31" cy="314.27" r="0.90" fill="#5aaebb"/>
<circle cx="153.98" cy="314.27" r="0.90" fill="#5aaebb"/>
<circle cx="161.63" cy="314.27" r="0.90" fill="#5aaebb"/>
<circle cx="169.30" cy="314.27" r="0.90" fill="#5aaebb"/>
<circle cx="176.96" cy="314.27" r="0.90" fill="#5aaebb"/>
<circle cx="199.94" cy="314.27" r="0.90" fill="#5aaebb"/>
<circle cx="228.66" cy="314.27" r="0.90" fill="#5aaebb"/>
<circle cx="274.62" cy="314.27" r="0.90" fill="#5aaebb"/>
<circle cx="423.99" cy="314.27" r="0.90" fill="#5aaebb"/>
<path d="M472.60 312.67L475.80 315.87M475.80 312.67L472.60 315.87" stroke="#111" stroke-width="1.0" fill="none"/>
<rect x="29.50" y="318.71" width="15.50" height="1.90" fill="#c8703c"/>
<rect x="62.00" y="317.41" width="341.70" height="4.50" fill="#0c6a50"/>
<circle cx="47.00" cy="319.66" r="0.80" fill="#b87845"/>
<circle cx="50.00" cy="319.66" r="0.80" fill="#b87845"/>
<circle cx="53.00" cy="319.66" r="0.80" fill="#b87845"/>
<circle cx="56.00" cy="319.66" r="0.80" fill="#b87845"/>
<circle cx="69.72" cy="319.66" r="0.90" fill="#5aaebb"/>
<circle cx="77.38" cy="319.66" r="0.90" fill="#5aaebb"/>
<circle cx="85.03" cy="319.66" r="0.90" fill="#5aaebb"/>
<circle cx="92.69" cy="319.66" r="0.90" fill="#5aaebb"/>
<circle cx="100.36" cy="319.66" r="0.90" fill="#5aaebb"/>
<circle cx="108.02" cy="319.66" r="0.90" fill="#5aaebb"/>
<circle cx="115.67" cy="319.66" r="0.90" fill="#5aaebb"/>
<circle cx="123.34" cy="319.66" r="0.90" fill="#5aaebb"/>
<circle cx="131.00" cy="319.66" r="0.90" fill="#5aaebb"/>
<circle cx="138.66" cy="319.66" r="0.90" fill="#5aaebb"/>
<circle cx="146.31" cy="319.66" r="0.90" fill="#5aaebb"/>
<circle cx="153.98" cy="319.66" r="0.90" fill="#5aaebb"/>
<circle cx="161.63" cy="319.66" r="0.90" fill="#5aaebb"/>
<circle cx="169.30" cy="319.66" r="0.90" fill="#5aaebb"/>
<circle cx="176.96" cy="319.66" r="0.90" fill="#5aaebb"/>
<circle cx="199.94" cy="319.66" r="0.90" fill="#5aaebb"/>
<circle cx="228.66" cy="319.66" r="0.90" fill="#5aaebb"/>
<circle cx="274.62" cy="319.66" r="0.90" fill="#5aaebb"/>
<circle cx="324.41" cy="319.66" r="0.90" fill="#5aaebb"/>
<circle cx="374.20" cy="319.66" r="0.90" fill="#5aaebb"/>
<circle cx="460.70" cy="319.66" r="1.30" fill="#2f7a47"/>
<rect x="29.50" y="324.10" width="14.50" height="1.90" fill="#c8703c"/>
<rect x="61.30" y="322.80" width="367.40" height="4.50" fill="#0c6a50"/>
<circle cx="50.00" cy="325.05" r="0.80" fill="#b87845"/>
<circle cx="69.72" cy="325.05" r="0.90" fill="#5aaebb"/>
<circle cx="77.38" cy="325.05" r="0.90" fill="#5aaebb"/>
<circle cx="85.03" cy="325.05" r="0.90" fill="#5aaebb"/>
<circle cx="92.69" cy="325.05" r="0.90" fill="#5aaebb"/>
<circle cx="100.36" cy="325.05" r="0.90" fill="#5aaebb"/>
<circle cx="108.02" cy="325.05" r="0.90" fill="#5aaebb"/>
<circle cx="115.67" cy="325.05" r="0.90" fill="#5aaebb"/>
<circle cx="123.34" cy="325.05" r="0.90" fill="#5aaebb"/>
<circle cx="131.00" cy="325.05" r="0.90" fill="#5aaebb"/>
<circle cx="138.66" cy="325.05" r="0.90" fill="#5aaebb"/>
<circle cx="146.31" cy="325.05" r="0.90" fill="#5aaebb"/>
<circle cx="153.98" cy="325.05" r="0.90" fill="#5aaebb"/>
<circle cx="161.63" cy="325.05" r="0.90" fill="#5aaebb"/>
<circle cx="169.30" cy="325.05" r="0.90" fill="#5aaebb"/>
<circle cx="176.96" cy="325.05" r="0.90" fill="#5aaebb"/>
<circle cx="199.94" cy="325.05" r="0.90" fill="#5aaebb"/>
<circle cx="228.66" cy="325.05" r="0.90" fill="#5aaebb"/>
<circle cx="274.62" cy="325.05" r="0.90" fill="#5aaebb"/>
<circle cx="324.41" cy="325.05" r="0.90" fill="#5aaebb"/>
<circle cx="374.20" cy="325.05" r="0.90" fill="#5aaebb"/>
<circle cx="423.99" cy="325.05" r="0.90" fill="#5aaebb"/>
<circle cx="440.00" cy="325.05" r="1.30" fill="#2f7a47"/>
<rect x="29.50" y="329.49" width="15.50" height="1.90" fill="#c8703c"/>
<rect x="54.50" y="328.19" width="329.50" height="4.50" fill="#0c6a50"/>
<circle cx="47.00" cy="330.44" r="0.80" fill="#b87845"/>
<circle cx="50.00" cy="330.44" r="0.80" fill="#b87845"/>
<circle cx="62.05" cy="330.44" r="0.90" fill="#5aaebb"/>
<circle cx="69.72" cy="330.44" r="0.90" fill="#5aaebb"/>
<circle cx="77.38" cy="330.44" r="0.90" fill="#5aaebb"/>
<circle cx="85.03" cy="330.44" r="0.90" fill="#5aaebb"/>
<circle cx="92.69" cy="330.44" r="0.90" fill="#5aaebb"/>
<circle cx="100.36" cy="330.44" r="0.90" fill="#5aaebb"/>
<circle cx="108.02" cy="330.44" r="0.90" fill="#5aaebb"/>
<circle cx="115.67" cy="330.44" r="0.90" fill="#5aaebb"/>
<circle cx="123.34" cy="330.44" r="0.90" fill="#5aaebb"/>
<circle cx="131.00" cy="330.44" r="0.90" fill="#5aaebb"/>
<circle cx="138.66" cy="330.44" r="0.90" fill="#5aaebb"/>
<circle cx="146.31" cy="330.44" r="0.90" fill="#5aaebb"/>
<circle cx="153.98" cy="330.44" r="0.90" fill="#5aaebb"/>
<circle cx="161.63" cy="330.44" r="0.90" fill="#5aaebb"/>
<circle cx="169.30" cy="330.44" r="0.90" fill="#5aaebb"/>
<circle cx="176.96" cy="330.44" r="0.90" fill="#5aaebb"/>
<circle cx="199.94" cy="330.44" r="0.90" fill="#5aaebb"/>
<circle cx="228.66" cy="330.44" r="0.90" fill="#5aaebb"/>
<circle cx="274.62" cy="330.44" r="0.90" fill="#5aaebb"/>
<circle cx="324.41" cy="330.44" r="0.90" fill="#5aaebb"/>
<circle cx="374.20" cy="330.44" r="0.90" fill="#5aaebb"/>
<circle cx="424.20" cy="330.44" r="1.30" fill="#2f7a47"/>
<rect x="29.50" y="334.88" width="15.50" height="1.90" fill="#c8703c"/>
<rect x="54.50" y="333.58" width="23.50" height="4.50" fill="#0c6a50"/>
<rect x="93.00" y="333.58" width="293.00" height="4.50" fill="#0c6a50"/>
<circle cx="47.00" cy="335.83" r="0.80" fill="#b87845"/>
<circle cx="50.00" cy="335.83" r="0.80" fill="#b87845"/>
<circle cx="82.00" cy="335.83" r="0.80" fill="#b87845"/>
<circle cx="87.00" cy="335.83" r="0.80" fill="#b87845"/>
<circle cx="62.05" cy="335.83" r="0.90" fill="#5aaebb"/>
<circle cx="69.72" cy="335.83" r="0.90" fill="#5aaebb"/>
<circle cx="100.36" cy="335.83" r="0.90" fill="#5aaebb"/>
<circle cx="108.02" cy="335.83" r="0.90" fill="#5aaebb"/>
<circle cx="115.67" cy="335.83" r="0.90" fill="#5aaebb"/>
<circle cx="123.34" cy="335.83" r="0.90" fill="#5aaebb"/>
<circle cx="131.00" cy="335.83" r="0.90" fill="#5aaebb"/>
<circle cx="138.66" cy="335.83" r="0.90" fill="#5aaebb"/>
<circle cx="146.31" cy="335.83" r="0.90" fill="#5aaebb"/>
<circle cx="153.98" cy="335.83" r="0.90" fill="#5aaebb"/>
<circle cx="161.63" cy="335.83" r="0.90" fill="#5aaebb"/>
<circle cx="169.30" cy="335.83" r="0.90" fill="#5aaebb"/>
<circle cx="176.96" cy="335.83" r="0.90" fill="#5aaebb"/>
<circle cx="199.94" cy="335.83" r="0.90" fill="#5aaebb"/>
<circle cx="228.66" cy="335.83" r="0.90" fill="#5aaebb"/>
<circle cx="274.62" cy="335.83" r="0.90" fill="#5aaebb"/>
<circle cx="324.41" cy="335.83" r="0.90" fill="#5aaebb"/>
<circle cx="374.20" cy="335.83" r="0.90" fill="#5aaebb"/>
<circle cx="420.50" cy="335.83" r="1.30" fill="#2f7a47"/>
<rect x="29.50" y="340.27" width="11.50" height="1.90" fill="#c8703c"/>
<rect x="47.70" y="338.97" width="15.30" height="4.50" fill="#0c6a50"/>
<rect x="107.00" y="338.97" width="271.80" height="4.50" fill="#0c6a50"/>
<circle cx="43.00" cy="341.22" r="0.80" fill="#b87845"/>
<circle cx="45.00" cy="341.22" r="0.80" fill="#b87845"/>
<circle cx="68.00" cy="341.22" r="0.80" fill="#b87845"/>
<circle cx="75.00" cy="341.22" r="0.80" fill="#b87845"/>
<circle cx="82.00" cy="341.22" r="0.80" fill="#b87845"/>
<circle cx="89.00" cy="341.22" r="0.80" fill="#b87845"/>
<circle cx="96.00" cy="341.22" r="0.80" fill="#b87845"/>
<circle cx="102.00" cy="341.22" r="0.80" fill="#b87845"/>
<circle cx="54.39" cy="341.22" r="0.90" fill="#5aaebb"/>
<circle cx="115.67" cy="341.22" r="0.90" fill="#5aaebb"/>
<circle cx="123.34" cy="341.22" r="0.90" fill="#5aaebb"/>
<circle cx="131.00" cy="341.22" r="0.90" fill="#5aaebb"/>
<circle cx="138.66" cy="341.22" r="0.90" fill="#5aaebb"/>
<circle cx="146.31" cy="341.22" r="0.90" fill="#5aaebb"/>
<circle cx="153.98" cy="341.22" r="0.90" fill="#5aaebb"/>
<circle cx="161.63" cy="341.22" r="0.90" fill="#5aaebb"/>
<circle cx="169.30" cy="341.22" r="0.90" fill="#5aaebb"/>
<circle cx="176.96" cy="341.22" r="0.90" fill="#5aaebb"/>
<circle cx="199.94" cy="341.22" r="0.90" fill="#5aaebb"/>
<circle cx="228.66" cy="341.22" r="0.90" fill="#5aaebb"/>
<circle cx="274.62" cy="341.22" r="0.90" fill="#5aaebb"/>
<circle cx="324.41" cy="341.22" r="0.90" fill="#5aaebb"/>
<circle cx="374.20" cy="341.22" r="0.90" fill="#5aaebb"/>
<circle cx="396.20" cy="341.22" r="1.30" fill="#2f7a47"/>
<rect x="29.50" y="345.66" width="15.50" height="1.90" fill="#c8703c"/>
<rect x="51.00" y="344.36" width="282.00" height="4.50" fill="#0c6a50"/>
<circle cx="47.00" cy="346.61" r="0.80" fill="#b87845"/>
<circle cx="54.39" cy="346.61" r="0.90" fill="#5aaebb"/>
<circle cx="62.05" cy="346.61" r="0.90" fill="#5aaebb"/>
<circle cx="69.72" cy="346.61" r="0.90" fill="#5aaebb"/>
<circle cx="77.38" cy="346.61" r="0.90" fill="#5aaebb"/>
<circle cx="85.03" cy="346.61" r="0.90" fill="#5aaebb"/>
<circle cx="92.69" cy="346.61" r="0.90" fill="#5aaebb"/>
<circle cx="100.36" cy="346.61" r="0.90" fill="#5aaebb"/>
<circle cx="108.02" cy="346.61" r="0.90" fill="#5aaebb"/>
<circle cx="115.67" cy="346.61" r="0.90" fill="#5aaebb"/>
<circle cx="123.34" cy="346.61" r="0.90" fill="#5aaebb"/>
<circle cx="131.00" cy="346.61" r="0.90" fill="#5aaebb"/>
<circle cx="138.66" cy="346.61" r="0.90" fill="#5aaebb"/>
<circle cx="146.31" cy="346.61" r="0.90" fill="#5aaebb"/>
<circle cx="153.98" cy="346.61" r="0.90" fill="#5aaebb"/>
<circle cx="161.63" cy="346.61" r="0.90" fill="#5aaebb"/>
<circle cx="169.30" cy="346.61" r="0.90" fill="#5aaebb"/>
<circle cx="176.96" cy="346.61" r="0.90" fill="#5aaebb"/>
<circle cx="199.94" cy="346.61" r="0.90" fill="#5aaebb"/>
<circle cx="228.66" cy="346.61" r="0.90" fill="#5aaebb"/>
<circle cx="274.62" cy="346.61" r="0.90" fill="#5aaebb"/>
<circle cx="324.41" cy="346.61" r="0.90" fill="#5aaebb"/>
<circle cx="382.60" cy="346.61" r="1.30" fill="#2f7a47"/>
<rect x="29.50" y="351.05" width="15.50" height="1.90" fill="#c8703c"/>
<rect x="85.00" y="349.75" width="140.00" height="4.50" fill="#0c6a50"/>
<rect x="323.00" y="349.75" width="49.70" height="4.50" fill="#0c6a50"/>
<circle cx="47.00" cy="352.00" r="0.80" fill="#b87845"/>
<circle cx="50.00" cy="352.00" r="0.80" fill="#b87845"/>
<circle cx="55.00" cy="352.00" r="0.80" fill="#b87845"/>
<circle cx="62.00" cy="352.00" r="0.80" fill="#b87845"/>
<circle cx="70.00" cy="352.00" r="0.80" fill="#b87845"/>
<circle cx="78.00" cy="352.00" r="0.80" fill="#b87845"/>
<circle cx="273.00" cy="352.00" r="0.80" fill="#b87845"/>
<circle cx="92.69" cy="352.00" r="0.90" fill="#5aaebb"/>
<circle cx="100.36" cy="352.00" r="0.90" fill="#5aaebb"/>
<circle cx="108.02" cy="352.00" r="0.90" fill="#5aaebb"/>
<circle cx="115.67" cy="352.00" r="0.90" fill="#5aaebb"/>
<circle cx="123.34" cy="352.00" r="0.90" fill="#5aaebb"/>
<circle cx="131.00" cy="352.00" r="0.90" fill="#5aaebb"/>
<circle cx="138.66" cy="352.00" r="0.90" fill="#5aaebb"/>
<circle cx="146.31" cy="352.00" r="0.90" fill="#5aaebb"/>
<circle cx="153.98" cy="352.00" r="0.90" fill="#5aaebb"/>
<circle cx="161.63" cy="352.00" r="0.90" fill="#5aaebb"/>
<circle cx="169.30" cy="352.00" r="0.90" fill="#5aaebb"/>
<circle cx="176.96" cy="352.00" r="0.90" fill="#5aaebb"/>
<circle cx="199.94" cy="352.00" r="0.90" fill="#5aaebb"/>
<path d="M377.60 350.40L380.80 353.60M380.80 350.40L377.60 353.60" stroke="#111" stroke-width="1.0" fill="none"/>
<rect x="29.50" y="356.44" width="15.50" height="1.90" fill="#c8703c"/>
<rect x="77.70" y="355.14" width="249.30" height="4.50" fill="#0c6a50"/>
<circle cx="47.00" cy="357.39" r="0.80" fill="#b87845"/>
<circle cx="50.00" cy="357.39" r="0.80" fill="#b87845"/>
<circle cx="55.00" cy="357.39" r="0.80" fill="#b87845"/>
<circle cx="62.00" cy="357.39" r="0.80" fill="#b87845"/>
<circle cx="70.00" cy="357.39" r="0.80" fill="#b87845"/>
<circle cx="85.03" cy="357.39" r="0.90" fill="#5aaebb"/>
<circle cx="92.69" cy="357.39" r="0.90" fill="#5aaebb"/>
<circle cx="100.36" cy="357.39" r="0.90" fill="#5aaebb"/>
<circle cx="108.02" cy="357.39" r="0.90" fill="#5aaebb"/>
<circle cx="115.67" cy="357.39" r="0.90" fill="#5aaebb"/>
<circle cx="123.34" cy="357.39" r="0.90" fill="#5aaebb"/>
<circle cx="131.00" cy="357.39" r="0.90" fill="#5aaebb"/>
<circle cx="138.66" cy="357.39" r="0.90" fill="#5aaebb"/>
<circle cx="146.31" cy="357.39" r="0.90" fill="#5aaebb"/>
<circle cx="153.98" cy="357.39" r="0.90" fill="#5aaebb"/>
<circle cx="161.63" cy="357.39" r="0.90" fill="#5aaebb"/>
<circle cx="169.30" cy="357.39" r="0.90" fill="#5aaebb"/>
<circle cx="176.96" cy="357.39" r="0.90" fill="#5aaebb"/>
<circle cx="199.94" cy="357.39" r="0.90" fill="#5aaebb"/>
<circle cx="228.66" cy="357.39" r="0.90" fill="#5aaebb"/>
<circle cx="274.62" cy="357.39" r="0.90" fill="#5aaebb"/>
<circle cx="324.41" cy="357.39" r="0.90" fill="#5aaebb"/>
<circle cx="377.00" cy="357.39" r="1.30" fill="#2f7a47"/>
<rect x="29.50" y="361.83" width="15.50" height="1.90" fill="#c8703c"/>
<rect x="62.20" y="360.53" width="22.80" height="4.50" fill="#0c6a50"/>
<rect x="101.20" y="360.53" width="219.80" height="4.50" fill="#0c6a50"/>
<circle cx="47.00" cy="362.78" r="0.80" fill="#b87845"/>
<circle cx="57.00" cy="362.78" r="0.80" fill="#b87845"/>
<circle cx="90.00" cy="362.78" r="0.80" fill="#b87845"/>
<circle cx="96.00" cy="362.78" r="0.80" fill="#b87845"/>
<circle cx="69.72" cy="362.78" r="0.90" fill="#5aaebb"/>
<circle cx="77.38" cy="362.78" r="0.90" fill="#5aaebb"/>
<circle cx="108.02" cy="362.78" r="0.90" fill="#5aaebb"/>
<circle cx="115.67" cy="362.78" r="0.90" fill="#5aaebb"/>
<circle cx="123.34" cy="362.78" r="0.90" fill="#5aaebb"/>
<circle cx="131.00" cy="362.78" r="0.90" fill="#5aaebb"/>
<circle cx="138.66" cy="362.78" r="0.90" fill="#5aaebb"/>
<circle cx="146.31" cy="362.78" r="0.90" fill="#5aaebb"/>
<circle cx="153.98" cy="362.78" r="0.90" fill="#5aaebb"/>
<circle cx="161.63" cy="362.78" r="0.90" fill="#5aaebb"/>
<circle cx="169.30" cy="362.78" r="0.90" fill="#5aaebb"/>
<circle cx="176.96" cy="362.78" r="0.90" fill="#5aaebb"/>
<circle cx="199.94" cy="362.78" r="0.90" fill="#5aaebb"/>
<circle cx="228.66" cy="362.78" r="0.90" fill="#5aaebb"/>
<circle cx="274.62" cy="362.78" r="0.90" fill="#5aaebb"/>
<circle cx="53.40" cy="362.78" r="1.90" fill="#0d5a55"/>
<path d="M367.60 361.18L370.80 364.38M370.80 361.18L367.60 364.38" stroke="#111" stroke-width="1.0" fill="none"/>
<rect x="29.50" y="367.22" width="15.50" height="1.90" fill="#c8703c"/>
<rect x="62.20" y="365.92" width="163.00" height="4.50" fill="#0c6a50"/>
<circle cx="47.00" cy="368.17" r="0.80" fill="#b87845"/>
<circle cx="50.00" cy="368.17" r="0.80" fill="#b87845"/>
<circle cx="55.00" cy="368.17" r="0.80" fill="#b87845"/>
<circle cx="320.80" cy="368.17" r="0.90" fill="#5cb39f"/>
<circle cx="69.72" cy="368.17" r="0.90" fill="#5aaebb"/>
<circle cx="77.38" cy="368.17" r="0.90" fill="#5aaebb"/>
<circle cx="85.03" cy="368.17" r="0.90" fill="#5aaebb"/>
<circle cx="92.69" cy="368.17" r="0.90" fill="#5aaebb"/>
<circle cx="100.36" cy="368.17" r="0.90" fill="#5aaebb"/>
<circle cx="108.02" cy="368.17" r="0.90" fill="#5aaebb"/>
<circle cx="115.67" cy="368.17" r="0.90" fill="#5aaebb"/>
<circle cx="123.34" cy="368.17" r="0.90" fill="#5aaebb"/>
<circle cx="131.00" cy="368.17" r="0.90" fill="#5aaebb"/>
<circle cx="138.66" cy="368.17" r="0.90" fill="#5aaebb"/>
<circle cx="146.31" cy="368.17" r="0.90" fill="#5aaebb"/>
<circle cx="153.98" cy="368.17" r="0.90" fill="#5aaebb"/>
<circle cx="161.63" cy="368.17" r="0.90" fill="#5aaebb"/>
<circle cx="169.30" cy="368.17" r="0.90" fill="#5aaebb"/>
<circle cx="176.96" cy="368.17" r="0.90" fill="#5aaebb"/>
<circle cx="199.94" cy="368.17" r="0.90" fill="#5aaebb"/>
<path d="M358.40 366.57L361.60 369.77M361.60 366.57L358.40 369.77" stroke="#111" stroke-width="1.0" fill="none"/>
<rect x="29.50" y="372.61" width="15.50" height="1.90" fill="#c8703c"/>
<rect x="62.90" y="371.31" width="264.10" height="4.50" fill="#0c6a50"/>
<circle cx="47.00" cy="373.56" r="0.80" fill="#b87845"/>
<circle cx="50.00" cy="373.56" r="0.80" fill="#b87845"/>
<circle cx="55.00" cy="373.56" r="0.80" fill="#b87845"/>
<circle cx="69.72" cy="373.56" r="0.90" fill="#5aaebb"/>
<circle cx="77.38" cy="373.56" r="0.90" fill="#5aaebb"/>
<circle cx="85.03" cy="373.56" r="0.90" fill="#5aaebb"/>
<circle cx="92.69" cy="373.56" r="0.90" fill="#5aaebb"/>
<circle cx="100.36" cy="373.56" r="0.90" fill="#5aaebb"/>
<circle cx="108.02" cy="373.56" r="0.90" fill="#5aaebb"/>
<circle cx="115.67" cy="373.56" r="0.90" fill="#5aaebb"/>
<circle cx="123.34" cy="373.56" r="0.90" fill="#5aaebb"/>
<circle cx="131.00" cy="373.56" r="0.90" fill="#5aaebb"/>
<circle cx="138.66" cy="373.56" r="0.90" fill="#5aaebb"/>
<circle cx="146.31" cy="373.56" r="0.90" fill="#5aaebb"/>
<circle cx="153.98" cy="373.56" r="0.90" fill="#5aaebb"/>
<circle cx="161.63" cy="373.56" r="0.90" fill="#5aaebb"/>
<circle cx="169.30" cy="373.56" r="0.90" fill="#5aaebb"/>
<circle cx="176.96" cy="373.56" r="0.90" fill="#5aaebb"/>
<circle cx="199.94" cy="373.56" r="0.90" fill="#5aaebb"/>
<circle cx="228.66" cy="373.56" r="0.90" fill="#5aaebb"/>
<circle cx="274.62" cy="373.56" r="0.90" fill="#5aaebb"/>
<circle cx="324.41" cy="373.56" r="0.90" fill="#5aaebb"/>
<circle cx="355.80" cy="373.56" r="1.30" fill="#2f7a47"/>
<rect x="29.50" y="378.00" width="15.50" height="1.90" fill="#c8703c"/>
<rect x="79.00" y="376.70" width="199.70" height="4.50" fill="#0c6a50"/>
<circle cx="47.00" cy="378.95" r="0.80" fill="#b87845"/>
<circle cx="52.00" cy="378.95" r="0.80" fill="#b87845"/>
<circle cx="56.00" cy="378.95" r="0.80" fill="#b87845"/>
<circle cx="62.00" cy="378.95" r="0.80" fill="#b87845"/>
<circle cx="70.00" cy="378.95" r="0.80" fill="#b87845"/>
<circle cx="85.03" cy="378.95" r="0.90" fill="#5aaebb"/>
<circle cx="92.69" cy="378.95" r="0.90" fill="#5aaebb"/>
<circle cx="100.36" cy="378.95" r="0.90" fill="#5aaebb"/>
<circle cx="108.02" cy="378.95" r="0.90" fill="#5aaebb"/>
<circle cx="115.67" cy="378.95" r="0.90" fill="#5aaebb"/>
<circle cx="123.34" cy="378.95" r="0.90" fill="#5aaebb"/>
<circle cx="131.00" cy="378.95" r="0.90" fill="#5aaebb"/>
<circle cx="138.66" cy="378.95" r="0.90" fill="#5aaebb"/>
<circle cx="146.31" cy="378.95" r="0.90" fill="#5aaebb"/>
<circle cx="153.98" cy="378.95" r="0.90" fill="#5aaebb"/>
<circle cx="161.63" cy="378.95" r="0.90" fill="#5aaebb"/>
<circle cx="169.30" cy="378.95" r="0.90" fill="#5aaebb"/>
<circle cx="176.96" cy="378.95" r="0.90" fill="#5aaebb"/>
<circle cx="199.94" cy="378.95" r="0.90" fill="#5aaebb"/>
<circle cx="228.66" cy="378.95" r="0.90" fill="#5aaebb"/>
<circle cx="274.62" cy="378.95" r="0.90" fill="#5aaebb"/>
<circle cx="317.00" cy="378.95" r="1.30" fill="#2f7a47"/>
<rect x="29.50" y="383.39" width="15.30" height="1.90" fill="#c8703c"/>
<rect x="54.80" y="382.09" width="146.20" height="4.50" fill="#0c6a50"/>
<circle cx="47.00" cy="384.34" r="0.80" fill="#b87845"/>
<circle cx="50.00" cy="384.34" r="0.80" fill="#b87845"/>
<circle cx="62.05" cy="384.34" r="0.90" fill="#5aaebb"/>
<circle cx="69.72" cy="384.34" r="0.90" fill="#5aaebb"/>
<circle cx="77.38" cy="384.34" r="0.90" fill="#5aaebb"/>
<circle cx="85.03" cy="384.34" r="0.90" fill="#5aaebb"/>
<circle cx="92.69" cy="384.34" r="0.90" fill="#5aaebb"/>
<circle cx="100.36" cy="384.34" r="0.90" fill="#5aaebb"/>
<circle cx="108.02" cy="384.34" r="0.90" fill="#5aaebb"/>
<circle cx="115.67" cy="384.34" r="0.90" fill="#5aaebb"/>
<circle cx="123.34" cy="384.34" r="0.90" fill="#5aaebb"/>
<circle cx="131.00" cy="384.34" r="0.90" fill="#5aaebb"/>
<circle cx="138.66" cy="384.34" r="0.90" fill="#5aaebb"/>
<circle cx="146.31" cy="384.34" r="0.90" fill="#5aaebb"/>
<circle cx="153.98" cy="384.34" r="0.90" fill="#5aaebb"/>
<circle cx="161.63" cy="384.34" r="0.90" fill="#5aaebb"/>
<circle cx="169.30" cy="384.34" r="0.90" fill="#5aaebb"/>
<circle cx="176.96" cy="384.34" r="0.90" fill="#5aaebb"/>
<path d="M218.40 382.74L221.60 385.94M221.60 382.74L218.40 385.94" stroke="#111" stroke-width="1.0" fill="none"/>
<rect x="29.50" y="388.78" width="15.30" height="1.90" fill="#c8703c"/>
<rect x="121.30" y="387.48" width="8.20" height="4.50" fill="#0c6a50"/>
<rect x="170.00" y="387.48" width="30.00" height="4.50" fill="#0c6a50"/>
<rect x="208.20" y="387.93" width="4.80" height="3.60" fill="#3b9dc0"/>
<circle cx="47.00" cy="389.73" r="0.80" fill="#b87845"/>
<circle cx="50.00" cy="389.73" r="0.80" fill="#b87845"/>
<circle cx="55.00" cy="389.73" r="0.80" fill="#b87845"/>
<circle cx="62.00" cy="389.73" r="0.80" fill="#b87845"/>
<circle cx="70.00" cy="389.73" r="0.80" fill="#b87845"/>
<circle cx="78.00" cy="389.73" r="0.80" fill="#b87845"/>
<circle cx="86.00" cy="389.73" r="0.80" fill="#b87845"/>
<circle cx="94.00" cy="389.73" r="0.80" fill="#b87845"/>
<circle cx="102.00" cy="389.73" r="0.80" fill="#b87845"/>
<circle cx="110.00" cy="389.73" r="0.80" fill="#b87845"/>
<circle cx="117.00" cy="389.73" r="0.80" fill="#b87845"/>
<circle cx="135.00" cy="389.73" r="0.80" fill="#b87845"/>
<circle cx="143.00" cy="389.73" r="0.80" fill="#b87845"/>
<circle cx="150.00" cy="389.73" r="0.80" fill="#b87845"/>
<circle cx="157.00" cy="389.73" r="0.80" fill="#b87845"/>
<circle cx="164.00" cy="389.73" r="0.80" fill="#b87845"/>
<circle cx="123.34" cy="389.73" r="0.90" fill="#5aaebb"/>
<circle cx="176.96" cy="389.73" r="0.90" fill="#5aaebb"/>
<path d="M217.70 387.93L219.50 391.17L215.90 391.17Z" stroke="#222" stroke-width="0.9" fill="none"/>
<rect x="29.50" y="394.17" width="22.50" height="1.90" fill="#c8703c"/>
<rect x="55.00" y="394.17" width="7.00" height="1.90" fill="#c8703c"/>
<rect x="70.30" y="392.87" width="138.90" height="4.50" fill="#0c6a50"/>
<circle cx="77.38" cy="395.12" r="0.90" fill="#5aaebb"/>
<circle cx="85.03" cy="395.12" r="0.90" fill="#5aaebb"/>
<circle cx="92.69" cy="395.12" r="0.90" fill="#5aaebb"/>
<circle cx="100.36" cy="395.12" r="0.90" fill="#5aaebb"/>
<circle cx="108.02" cy="395.12" r="0.90" fill="#5aaebb"/>
<circle cx="115.67" cy="395.12" r="0.90" fill="#5aaebb"/>
<circle cx="123.34" cy="395.12" r="0.90" fill="#5aaebb"/>
<circle cx="131.00" cy="395.12" r="0.90" fill="#5aaebb"/>
<circle cx="138.66" cy="395.12" r="0.90" fill="#5aaebb"/>
<circle cx="146.31" cy="395.12" r="0.90" fill="#5aaebb"/>
<circle cx="153.98" cy="395.12" r="0.90" fill="#5aaebb"/>
<circle cx="161.63" cy="395.12" r="0.90" fill="#5aaebb"/>
<circle cx="169.30" cy="395.12" r="0.90" fill="#5aaebb"/>
<circle cx="176.96" cy="395.12" r="0.90" fill="#5aaebb"/>
<circle cx="199.94" cy="395.12" r="0.90" fill="#5aaebb"/>
<path d="M212.80 393.32L214.60 396.56L211.00 396.56Z" stroke="#222" stroke-width="0.9" fill="none"/>
<rect x="29.50" y="399.56" width="14.70" height="1.90" fill="#c8703c"/>
<rect x="47.10" y="398.26" width="124.10" height="4.50" fill="#0c6a50"/>
<circle cx="54.39" cy="400.51" r="0.90" fill="#5aaebb"/>
<circle cx="62.05" cy="400.51" r="0.90" fill="#5aaebb"/>
<circle cx="69.72" cy="400.51" r="0.90" fill="#5aaebb"/>
<circle cx="77.38" cy="400.51" r="0.90" fill="#5aaebb"/>
<circle cx="85.03" cy="400.51" r="0.90" fill="#5aaebb"/>
<circle cx="92.69" cy="400.51" r="0.90" fill="#5aaebb"/>
<circle cx="100.36" cy="400.51" r="0.90" fill="#5aaebb"/>
<circle cx="108.02" cy="400.51" r="0.90" fill="#5aaebb"/>
<circle cx="115.67" cy="400.51" r="0.90" fill="#5aaebb"/>
<circle cx="123.34" cy="400.51" r="0.90" fill="#5aaebb"/>
<circle cx="131.00" cy="400.51" r="0.90" fill="#5aaebb"/>
<circle cx="138.66" cy="400.51" r="0.90" fill="#5aaebb"/>
<circle cx="146.31" cy="400.51" r="0.90" fill="#5aaebb"/>
<circle cx="153.98" cy="400.51" r="0.90" fill="#5aaebb"/>
<circle cx="161.63" cy="400.51" r="0.90" fill="#5aaebb"/>
<circle cx="169.30" cy="400.51" r="0.90" fill="#5aaebb"/>
<path d="M173.00 398.91L176.20 402.11M176.20 398.91L173.00 402.11" stroke="#111" stroke-width="1.0" fill="none"/>
<rect x="29.50" y="404.95" width="18.20" height="1.90" fill="#c8703c"/>
<rect x="54.60" y="403.65" width="78.90" height="4.50" fill="#0c6a50"/>
<circle cx="50.00" cy="405.90" r="0.80" fill="#b87845"/>
<circle cx="62.05" cy="405.90" r="0.90" fill="#5aaebb"/>
<circle cx="69.72" cy="405.90" r="0.90" fill="#5aaebb"/>
<circle cx="77.38" cy="405.90" r="0.90" fill="#5aaebb"/>
<circle cx="85.03" cy="405.90" r="0.90" fill="#5aaebb"/>
<circle cx="92.69" cy="405.90" r="0.90" fill="#5aaebb"/>
<circle cx="100.36" cy="405.90" r="0.90" fill="#5aaebb"/>
<circle cx="108.02" cy="405.90" r="0.90" fill="#5aaebb"/>
<circle cx="115.67" cy="405.90" r="0.90" fill="#5aaebb"/>
<circle cx="123.34" cy="405.90" r="0.90" fill="#5aaebb"/>
<circle cx="131.00" cy="405.90" r="0.90" fill="#5aaebb"/>
<path d="M135.70 404.30L138.90 407.50M138.90 404.30L135.70 407.50" stroke="#111" stroke-width="1.0" fill="none"/>
<rect x="29.50" y="410.34" width="14.70" height="1.90" fill="#c8703c"/>
<rect x="47.10" y="409.04" width="45.80" height="4.50" fill="#0c6a50"/>
<circle cx="54.39" cy="411.29" r="0.90" fill="#5aaebb"/>
<circle cx="62.05" cy="411.29" r="0.90" fill="#5aaebb"/>
<circle cx="69.72" cy="411.29" r="0.90" fill="#5aaebb"/>
<circle cx="77.38" cy="411.29" r="0.90" fill="#5aaebb"/>
<circle cx="85.03" cy="411.29" r="0.90" fill="#5aaebb"/>
<path d="M95.10 409.69L98.30 412.89M98.30 409.69L95.10 412.89" stroke="#111" stroke-width="1.0" fill="none"/>
<rect x="29.50" y="415.73" width="15.30" height="1.90" fill="#c8703c"/>
<circle cx="47.00" cy="416.68" r="0.80" fill="#b87845"/>
<circle cx="50.00" cy="416.68" r="0.80" fill="#b87845"/>
<circle cx="53.00" cy="416.68" r="0.80" fill="#b87845"/>
<circle cx="56.00" cy="416.68" r="0.80" fill="#b87845"/>
<circle cx="62.00" cy="416.68" r="0.80" fill="#b87845"/>
<circle cx="70.00" cy="416.68" r="0.80" fill="#b87845"/>
<circle cx="78.00" cy="416.68" r="0.80" fill="#b87845"/>
<circle cx="86.00" cy="416.68" r="0.80" fill="#b87845"/>
<circle cx="94.00" cy="416.68" r="0.80" fill="#b87845"/>
<circle cx="116.00" cy="416.68" r="0.80" fill="#b87845"/>
<circle cx="135.00" cy="416.68" r="0.80" fill="#b87845"/>
<path d="M142.80 415.08L146.00 418.28M146.00 415.08L142.80 418.28" stroke="#111" stroke-width="1.0" fill="none"/>
<rect x="29.50" y="421.12" width="15.30" height="1.90" fill="#c8703c"/>
<circle cx="47.00" cy="422.07" r="0.80" fill="#b87845"/>
<circle cx="50.00" cy="422.07" r="0.80" fill="#b87845"/>
<circle cx="55.00" cy="422.07" r="0.80" fill="#b87845"/>
<circle cx="62.00" cy="422.07" r="0.80" fill="#b87845"/>
<circle cx="70.00" cy="422.07" r="0.80" fill="#b87845"/>
<circle cx="78.00" cy="422.07" r="0.80" fill="#b87845"/>
<circle cx="90.00" cy="422.07" r="0.80" fill="#b87845"/>
<path d="M133.10 420.47L136.30 423.67M136.30 420.47L133.10 423.67" stroke="#111" stroke-width="1.0" fill="none"/>
<rect x="29.50" y="426.51" width="15.30" height="1.90" fill="#c8703c"/>
<circle cx="47.00" cy="427.46" r="0.80" fill="#b87845"/>
<circle cx="50.00" cy="427.46" r="0.80" fill="#b87845"/>
<circle cx="53.00" cy="427.46" r="0.80" fill="#b87845"/>
<circle cx="62.00" cy="427.46" r="0.80" fill="#b87845"/>
<circle cx="70.00" cy="427.46" r="0.80" fill="#b87845"/>
<circle cx="78.00" cy="427.46" r="0.80" fill="#b87845"/>
<circle cx="86.00" cy="427.46" r="0.80" fill="#b87845"/>
<circle cx="94.00" cy="427.46" r="0.80" fill="#b87845"/>
<circle cx="102.00" cy="427.46" r="0.80" fill="#b87845"/>
<circle cx="110.00" cy="427.46" r="0.80" fill="#b87845"/>
<path d="M122.10 425.66L123.90 428.90L120.30 428.90Z" stroke="#222" stroke-width="0.9" fill="none"/>
<rect x="29.50" y="431.90" width="15.30" height="1.90" fill="#c8703c"/>
<circle cx="47.00" cy="432.85" r="0.80" fill="#b87845"/>
<circle cx="50.00" cy="432.85" r="0.80" fill="#b87845"/>
<circle cx="53.00" cy="432.85" r="0.80" fill="#b87845"/>
<circle cx="62.00" cy="432.85" r="0.80" fill="#b87845"/>
<circle cx="70.00" cy="432.85" r="0.80" fill="#b87845"/>
<circle cx="78.00" cy="432.85" r="0.80" fill="#b87845"/>
<circle cx="86.00" cy="432.85" r="0.80" fill="#b87845"/>
<circle cx="94.00" cy="432.85" r="0.80" fill="#b87845"/>
<circle cx="102.00" cy="432.85" r="0.80" fill="#b87845"/>
<path d="M108.00 431.25L111.20 434.45M111.20 431.25L108.00 434.45" stroke="#111" stroke-width="1.0" fill="none"/>
<rect x="29.50" y="437.29" width="22.50" height="1.90" fill="#c8703c"/>
<circle cx="55.00" cy="438.24" r="0.80" fill="#b87845"/>
<circle cx="62.00" cy="438.24" r="0.80" fill="#b87845"/>
<circle cx="70.00" cy="438.24" r="0.80" fill="#b87845"/>
<circle cx="76.00" cy="438.24" r="0.80" fill="#b87845"/>
<path d="M82.10 436.64L85.30 439.84M85.30 436.64L82.10 439.84" stroke="#111" stroke-width="1.0" fill="none"/>
<rect x="29.50" y="442.68" width="15.30" height="1.90" fill="#c8703c"/>
<circle cx="47.00" cy="443.63" r="0.80" fill="#b87845"/>
<circle cx="50.00" cy="443.63" r="0.80" fill="#b87845"/>
<circle cx="53.00" cy="443.63" r="0.80" fill="#b87845"/>
<circle cx="62.00" cy="443.63" r="0.80" fill="#b87845"/>
<circle cx="70.00" cy="443.63" r="0.80" fill="#b87845"/>
<circle cx="76.00" cy="443.63" r="0.80" fill="#b87845"/>
<path d="M83.70 441.83L85.50 445.07L81.90 445.07Z" stroke="#222" stroke-width="0.9" fill="none"/>
<rect x="29.50" y="448.07" width="15.30" height="1.90" fill="#c8703c"/>
<circle cx="47.00" cy="449.02" r="0.80" fill="#b87845"/>
<circle cx="50.00" cy="449.02" r="0.80" fill="#b87845"/>
<circle cx="53.00" cy="449.02" r="0.80" fill="#b87845"/>
<circle cx="62.00" cy="449.02" r="0.80" fill="#b87845"/>
<circle cx="70.00" cy="449.02" r="0.80" fill="#b87845"/>
<circle cx="76.00" cy="449.02" r="0.80" fill="#b87845"/>
<path d="M79.20 447.42L82.40 450.62M82.40 447.42L79.20 450.62" stroke="#111" stroke-width="1.0" fill="none"/>
<rect x="29.50" y="453.46" width="15.30" height="1.90" fill="#c8703c"/>
<circle cx="47.00" cy="454.41" r="0.80" fill="#b87845"/>
<circle cx="50.00" cy="454.41" r="0.80" fill="#b87845"/>
<circle cx="53.00" cy="454.41" r="0.80" fill="#b87845"/>
<circle cx="62.00" cy="454.41" r="0.80" fill="#b87845"/>
<circle cx="70.00" cy="454.41" r="0.80" fill="#b87845"/>
<circle cx="76.00" cy="454.41" r="0.80" fill="#b87845"/>
<path d="M79.20 452.81L82.40 456.01M82.40 452.81L79.20 456.01" stroke="#111" stroke-width="1.0" fill="none"/>
<rect x="29.50" y="458.85" width="15.30" height="1.90" fill="#c8703c"/>
<circle cx="47.00" cy="459.80" r="0.80" fill="#b87845"/>
<circle cx="50.00" cy="459.80" r="0.80" fill="#b87845"/>
<circle cx="53.00" cy="459.80" r="0.80" fill="#b87845"/>
<circle cx="62.00" cy="459.80" r="0.80" fill="#b87845"/>
<circle cx="70.00" cy="459.80" r="0.80" fill="#b87845"/>
<circle cx="76.00" cy="459.80" r="0.80" fill="#b87845"/>
<path d="M80.10 458.20L83.30 461.40M83.30 458.20L80.10 461.40" stroke="#111" stroke-width="1.0" fill="none"/>
<rect x="29.50" y="464.24" width="15.30" height="1.90" fill="#c8703c"/>
<circle cx="47.00" cy="465.19" r="0.80" fill="#b87845"/>
<circle cx="50.00" cy="465.19" r="0.80" fill="#b87845"/>
<circle cx="53.00" cy="465.19" r="0.80" fill="#b87845"/>
<circle cx="62.00" cy="465.19" r="0.80" fill="#b87845"/>
<circle cx="70.00" cy="465.19" r="0.80" fill="#b87845"/>
<circle cx="76.00" cy="465.19" r="0.80" fill="#b87845"/>
<path d="M80.30 463.39L82.10 466.63L78.50 466.63Z" stroke="#222" stroke-width="0.9" fill="none"/>
<rect x="29.50" y="469.63" width="15.30" height="1.90" fill="#c8703c"/>
<circle cx="47.00" cy="470.58" r="0.80" fill="#b87845"/>
<circle cx="50.00" cy="470.58" r="0.80" fill="#b87845"/>
<circle cx="53.00" cy="470.58" r="0.80" fill="#b87845"/>
<circle cx="62.00" cy="470.58" r="0.80" fill="#b87845"/>
<circle cx="70.00" cy="470.58" r="0.80" fill="#b87845"/>
<circle cx="76.00" cy="470.58" r="0.80" fill="#b87845"/>
<path d="M79.20 468.78L81.00 472.02L77.40 472.02Z" stroke="#222" stroke-width="0.9" fill="none"/>
<rect x="29.50" y="475.02" width="15.30" height="1.90" fill="#c8703c"/>
<rect x="59.00" y="475.02" width="5.60" height="1.90" fill="#c8703c"/>
<circle cx="47.00" cy="475.97" r="0.80" fill="#b87845"/>
<circle cx="50.00" cy="475.97" r="0.80" fill="#b87845"/>
<circle cx="53.00" cy="475.97" r="0.80" fill="#b87845"/>
<circle cx="55.00" cy="475.97" r="0.80" fill="#b87845"/>
<path d="M67.60 474.37L70.80 477.57M70.80 474.37L67.60 477.57" stroke="#111" stroke-width="1.0" fill="none"/>
<rect x="29.50" y="480.41" width="21.30" height="1.90" fill="#c8703c"/>
<path d="M52.20 479.76L55.40 482.96M55.40 479.76L52.20 482.96" stroke="#111" stroke-width="1.0" fill="none"/>
<rect x="29.50" y="485.80" width="12.00" height="1.90" fill="#c8703c"/>
<path d="M43.80 485.15L47.00 488.35M47.00 485.15L43.80 488.35" stroke="#111" stroke-width="1.0" fill="none"/>
<path d="M33.00 490.54L36.20 493.74M36.20 490.54L33.00 493.74" stroke="#111" stroke-width="1.0" fill="none"/>
<rect x="18.3" y="287.00" width="494.2" height="216.30" fill="none" stroke="#1a1a1a" stroke-width="1.15"/>
<text x="27.80" y="299.90" font-size="5.0" text-anchor="end" font-weight="normal" fill="#2a2a2a" stroke="#2a2a2a" stroke-width="0.1">15</text>
<text x="27.80" y="305.29" font-size="5.0" text-anchor="end" font-weight="normal" fill="#2a2a2a" stroke="#2a2a2a" stroke-width="0.1">16</text>
<text x="27.80" y="310.68" font-size="5.0" text-anchor="end" font-weight="normal" fill="#2a2a2a" stroke="#2a2a2a" stroke-width="0.1">17</text>
<text x="27.80" y="316.07" font-size="5.0" text-anchor="end" font-weight="normal" fill="#2a2a2a" stroke="#2a2a2a" stroke-width="0.1">18</text>
<text x="27.80" y="321.46" font-size="5.0" text-anchor="end" font-weight="normal" fill="#2a2a2a" stroke="#2a2a2a" stroke-width="0.1">19</text>
<text x="27.80" y="326.85" font-size="5.0" text-anchor="end" font-weight="normal" fill="#2a2a2a" stroke="#2a2a2a" stroke-width="0.1">20</text>
<text x="27.80" y="332.24" font-size="5.0" text-anchor="end" font-weight="normal" fill="#2a2a2a" stroke="#2a2a2a" stroke-width="0.1">21</text>
<text x="27.80" y="337.63" font-size="5.0" text-anchor="end" font-weight="normal" fill="#2a2a2a" stroke="#2a2a2a" stroke-width="0.1">22</text>
<text x="27.80" y="343.02" font-size="5.0" text-anchor="end" font-weight="normal" fill="#2a2a2a" stroke="#2a2a2a" stroke-width="0.1">23</text>
<text x="27.80" y="348.41" font-size="5.0" text-anchor="end" font-weight="normal" fill="#2a2a2a" stroke="#2a2a2a" stroke-width="0.1">24</text>
<text x="27.80" y="353.80" font-size="5.0" text-anchor="end" font-weight="normal" fill="#2a2a2a" stroke="#2a2a2a" stroke-width="0.1">25</text>
<text x="27.80" y="359.19" font-size="5.0" text-anchor="end" font-weight="normal" fill="#2a2a2a" stroke="#2a2a2a" stroke-width="0.1">26</text>
<text x="27.80" y="364.58" font-size="5.0" text-anchor="end" font-weight="normal" fill="#2a2a2a" stroke="#2a2a2a" stroke-width="0.1">27</text>
<text x="27.80" y="369.97" font-size="5.0" text-anchor="end" font-weight="normal" fill="#2a2a2a" stroke="#2a2a2a" stroke-width="0.1">28</text>
<text x="27.80" y="375.36" font-size="5.0" text-anchor="end" font-weight="normal" fill="#2a2a2a" stroke="#2a2a2a" stroke-width="0.1">29</text>
<text x="27.80" y="380.75" font-size="5.0" text-anchor="end" font-weight="normal" fill="#2a2a2a" stroke="#2a2a2a" stroke-width="0.1">30</text>
<text x="27.80" y="386.14" font-size="5.0" text-anchor="end" font-weight="normal" fill="#2a2a2a" stroke="#2a2a2a" stroke-width="0.1">31</text>
<text x="27.80" y="391.53" font-size="5.0" text-anchor="end" font-weight="normal" fill="#2a2a2a" stroke="#2a2a2a" stroke-width="0.1">32</text>
<text x="27.80" y="396.92" font-size="5.0" text-anchor="end" font-weight="normal" fill="#2a2a2a" stroke="#2a2a2a" stroke-width="0.1">33</text>
<text x="27.80" y="402.31" font-size="5.0" text-anchor="end" font-weight="normal" fill="#2a2a2a" stroke="#2a2a2a" stroke-width="0.1">34</text>
<text x="27.80" y="407.70" font-size="5.0" text-anchor="end" font-weight="normal" fill="#2a2a2a" stroke="#2a2a2a" stroke-width="0.1">35</text>
<text x="27.80" y="413.09" font-size="5.0" text-anchor="end" font-weight="normal" fill="#2a2a2a" stroke="#2a2a2a" stroke-width="0.1">36</text>
<text x="27.80" y="418.48" font-size="5.0" text-anchor="end" font-weight="normal" fill="#2a2a2a" stroke="#2a2a2a" stroke-width="0.1">37</text>
<text x="27.80" y="423.87" font-size="5.0" text-anchor="end" font-weight="normal" fill="#2a2a2a" stroke="#2a2a2a" stroke-width="0.1">38</text>
<text x="27.80" y="429.26" font-size="5.0" text-anchor="end" font-weight="normal" fill="#2a2a2a" stroke="#2a2a2a" stroke-width="0.1">39</text>
<text x="27.80" y="434.65" font-size="5.0" text-anchor="end" font-weight="normal" fill="#2a2a2a" stroke="#2a2a2a" stroke-width="0.1">40</text>
<text x="27.80" y="440.04" font-size="5.0" text-anchor="end" font-weight="normal" fill="#2a2a2a" stroke="#2a2a2a" stroke-width="0.1">41</text>
<text x="27.80" y="445.43" font-size="5.0" text-anchor="end" font-weight="normal" fill="#2a2a2a" stroke="#2a2a2a" stroke-width="0.1">42</text>
<text x="27.80" y="450.82" font-size="5.0" text-anchor="end" font-weight="normal" fill="#2a2a2a" stroke="#2a2a2a" stroke-width="0.1">43</text>
<text x="27.80" y="456.21" font-size="5.0" text-anchor="end" font-weight="normal" fill="#2a2a2a" stroke="#2a2a2a" stroke-width="0.1">44</text>
<text x="27.80" y="461.60" font-size="5.0" text-anchor="end" font-weight="normal" fill="#2a2a2a" stroke="#2a2a2a" stroke-width="0.1">45</text>
<text x="27.80" y="466.99" font-size="5.0" text-anchor="end" font-weight="normal" fill="#2a2a2a" stroke="#2a2a2a" stroke-width="0.1">46</text>
<text x="27.80" y="472.38" font-size="5.0" text-anchor="end" font-weight="normal" fill="#2a2a2a" stroke="#2a2a2a" stroke-width="0.1">47</text>
<text x="27.80" y="477.77" font-size="5.0" text-anchor="end" font-weight="normal" fill="#2a2a2a" stroke="#2a2a2a" stroke-width="0.1">48</text>
<text x="27.80" y="483.16" font-size="5.0" text-anchor="end" font-weight="normal" fill="#2a2a2a" stroke="#2a2a2a" stroke-width="0.1">49</text>
<text x="27.80" y="488.55" font-size="5.0" text-anchor="end" font-weight="normal" fill="#2a2a2a" stroke="#2a2a2a" stroke-width="0.1">50</text>
<text x="27.80" y="493.94" font-size="5.0" text-anchor="end" font-weight="normal" fill="#2a2a2a" stroke="#2a2a2a" stroke-width="0.1">51</text>
<line x1="29.50" y1="503.30" x2="29.50" y2="506.50" stroke="#222" stroke-width="0.9"/>
<text x="29.50" y="514.50" font-size="6.0" text-anchor="middle" font-weight="normal" fill="#2a2a2a" stroke="#2a2a2a" stroke-width="0.1">0</text>
<line x1="52.48" y1="503.30" x2="52.48" y2="506.50" stroke="#222" stroke-width="0.9"/>
<text x="52.48" y="514.50" font-size="6.0" text-anchor="middle" font-weight="normal" fill="#2a2a2a" stroke="#2a2a2a" stroke-width="0.1">12</text>
<line x1="75.46" y1="503.30" x2="75.46" y2="506.50" stroke="#222" stroke-width="0.9"/>
<text x="75.46" y="514.50" font-size="6.0" text-anchor="middle" font-weight="normal" fill="#2a2a2a" stroke="#2a2a2a" stroke-width="0.1">24</text>
<line x1="98.44" y1="503.30" x2="98.44" y2="506.50" stroke="#222" stroke-width="0.9"/>
<text x="98.44" y="514.50" font-size="6.0" text-anchor="middle" font-weight="normal" fill="#2a2a2a" stroke="#2a2a2a" stroke-width="0.1">36</text>
<line x1="121.42" y1="503.30" x2="121.42" y2="506.50" stroke="#222" stroke-width="0.9"/>
<text x="121.42" y="514.50" font-size="6.0" text-anchor="middle" font-weight="normal" fill="#2a2a2a" stroke="#2a2a2a" stroke-width="0.1">48</text>
<line x1="144.40" y1="503.30" x2="144.40" y2="506.50" stroke="#222" stroke-width="0.9"/>
<text x="144.40" y="514.50" font-size="6.0" text-anchor="middle" font-weight="normal" fill="#2a2a2a" stroke="#2a2a2a" stroke-width="0.1">60</text>
<line x1="167.38" y1="503.30" x2="167.38" y2="506.50" stroke="#222" stroke-width="0.9"/>
<text x="167.38" y="514.50" font-size="6.0" text-anchor="middle" font-weight="normal" fill="#2a2a2a" stroke="#2a2a2a" stroke-width="0.1">72</text>
<line x1="190.36" y1="503.30" x2="190.36" y2="506.50" stroke="#222" stroke-width="0.9"/>
<text x="190.36" y="514.50" font-size="6.0" text-anchor="middle" font-weight="normal" fill="#2a2a2a" stroke="#2a2a2a" stroke-width="0.1">84</text>
<line x1="213.34" y1="503.30" x2="213.34" y2="506.50" stroke="#222" stroke-width="0.9"/>
<text x="213.34" y="514.50" font-size="6.0" text-anchor="middle" font-weight="normal" fill="#2a2a2a" stroke="#2a2a2a" stroke-width="0.1">96</text>
<line x1="236.32" y1="503.30" x2="236.32" y2="506.50" stroke="#222" stroke-width="0.9"/>
<text x="236.32" y="514.50" font-size="6.0" text-anchor="middle" font-weight="normal" fill="#2a2a2a" stroke="#2a2a2a" stroke-width="0.1">108</text>
<line x1="259.30" y1="503.30" x2="259.30" y2="506.50" stroke="#222" stroke-width="0.9"/>
<text x="259.30" y="514.50" font-size="6.0" text-anchor="middle" font-weight="normal" fill="#2a2a2a" stroke="#2a2a2a" stroke-width="0.1">120</text>
<line x1="278.45" y1="503.30" x2="278.45" y2="506.50" stroke="#222" stroke-width="0.9"/>
<text x="278.45" y="514.50" font-size="6.0" text-anchor="middle" font-weight="normal" fill="#2a2a2a" stroke="#2a2a2a" stroke-width="0.1">130</text>
<line x1="301.43" y1="503.30" x2="301.43" y2="506.50" stroke="#222" stroke-width="0.9"/>
<text x="301.43" y="514.50" font-size="6.0" text-anchor="middle" font-weight="normal" fill="#2a2a2a" stroke="#2a2a2a" stroke-width="0.1">142</text>
<line x1="324.41" y1="503.30" x2="324.41" y2="506.50" stroke="#222" stroke-width="0.9"/>
<text x="324.41" y="514.50" font-size="6.0" text-anchor="middle" font-weight="normal" fill="#2a2a2a" stroke="#2a2a2a" stroke-width="0.1">154</text>
<line x1="347.39" y1="503.30" x2="347.39" y2="506.50" stroke="#222" stroke-width="0.9"/>
<text x="347.39" y="514.50" font-size="6.0" text-anchor="middle" font-weight="normal" fill="#2a2a2a" stroke="#2a2a2a" stroke-width="0.1">166</text>
<line x1="370.37" y1="503.30" x2="370.37" y2="506.50" stroke="#222" stroke-width="0.9"/>
<text x="370.37" y="514.50" font-size="6.0" text-anchor="middle" font-weight="normal" fill="#2a2a2a" stroke="#2a2a2a" stroke-width="0.1">178</text>
<line x1="393.35" y1="503.30" x2="393.35" y2="506.50" stroke="#222" stroke-width="0.9"/>
<text x="393.35" y="514.50" font-size="6.0" text-anchor="middle" font-weight="normal" fill="#2a2a2a" stroke="#2a2a2a" stroke-width="0.1">190</text>
<line x1="416.33" y1="503.30" x2="416.33" y2="506.50" stroke="#222" stroke-width="0.9"/>
<text x="416.33" y="514.50" font-size="6.0" text-anchor="middle" font-weight="normal" fill="#2a2a2a" stroke="#2a2a2a" stroke-width="0.1">202</text>
<line x1="439.31" y1="503.30" x2="439.31" y2="506.50" stroke="#222" stroke-width="0.9"/>
<text x="439.31" y="514.50" font-size="6.0" text-anchor="middle" font-weight="normal" fill="#2a2a2a" stroke="#2a2a2a" stroke-width="0.1">214</text>
<line x1="462.29" y1="503.30" x2="462.29" y2="506.50" stroke="#222" stroke-width="0.9"/>
<text x="462.29" y="514.50" font-size="6.0" text-anchor="middle" font-weight="normal" fill="#2a2a2a" stroke="#2a2a2a" stroke-width="0.1">226</text>
<line x1="485.27" y1="503.30" x2="485.27" y2="506.50" stroke="#222" stroke-width="0.9"/>
<text x="485.27" y="514.50" font-size="6.0" text-anchor="middle" font-weight="normal" fill="#2a2a2a" stroke="#2a2a2a" stroke-width="0.1">238</text>
<line x1="508.25" y1="503.30" x2="508.25" y2="506.50" stroke="#222" stroke-width="0.9"/>
<text x="508.25" y="514.50" font-size="6.0" text-anchor="middle" font-weight="normal" fill="#2a2a2a" stroke="#2a2a2a" stroke-width="0.1">250</text>
<text x="265.6" y="525.80" font-size="7.0" text-anchor="middle" font-weight="bold" fill="#222" textLength="16.6" lengthAdjust="spacingAndGlyphs">Weeks</text>
<text transform="translate(12.9,394.00) rotate(-90)" x="0" y="0" font-size="6.6" text-anchor="middle" fill="#222" stroke="#222" stroke-width="0.15" textLength="81.5" lengthAdjust="spacingAndGlyphs">Patients who received study drug</text>
<rect x="412.90" y="457.40" width="29.30" height="4.00" fill="#0c6a50"/>
<text x="445.40" y="461.70" font-size="5.6" text-anchor="start" font-weight="normal" fill="#2a2a2a" textLength="47.8" lengthAdjust="spacingAndGlyphs">Response duration</text>
<text x="445.40" y="469.30" font-size="5.6" text-anchor="start" font-weight="normal" fill="#2a2a2a" textLength="18.0" lengthAdjust="spacingAndGlyphs">CR/PR</text>
<text x="445.40" y="476.90" font-size="5.6" text-anchor="start" font-weight="normal" fill="#2a2a2a" textLength="7.6" lengthAdjust="spacingAndGlyphs">NR</text>
<text x="445.40" y="484.50" font-size="5.6" text-anchor="start" font-weight="normal" fill="#2a2a2a" textLength="21.6" lengthAdjust="spacingAndGlyphs">Ongoing</text>
<text x="445.40" y="492.10" font-size="5.6" text-anchor="start" font-weight="normal" fill="#2a2a2a" textLength="22.8" lengthAdjust="spacingAndGlyphs">Off-study</text>
<text x="445.40" y="499.70" font-size="5.6" text-anchor="start" font-weight="normal" fill="#2a2a2a" textLength="59.6" lengthAdjust="spacingAndGlyphs">Off-study due to HSCT</text>
<circle cx="427.80" cy="467.00" r="0.90" fill="#5a8fb0"/>
<circle cx="427.80" cy="474.60" r="0.90" fill="#b87845"/>
<circle cx="427.80" cy="482.20" r="1.20" fill="#2f7a47"/>
<path d="M426.30 488.30L429.30 491.30M429.30 488.30L426.30 491.30" stroke="#111" stroke-width="0.8" fill="none"/>
<path d="M427.80 495.80L429.40 498.68L426.20 498.68Z" stroke="#222" stroke-width="0.7" fill="none"/>
<rect x="190.30" y="531.25" width="5.50" height="5.30" fill="#aaa3d2"/>
<text x="199.10" y="536.00" font-size="5.9" text-anchor="start" font-weight="normal" fill="#2a2a2a" textLength="33.8" lengthAdjust="spacingAndGlyphs">On treatment</text>
<rect x="239.20" y="531.25" width="5.50" height="5.30" fill="#c8283a"/>
<text x="247.60" y="536.00" font-size="5.9" text-anchor="start" font-weight="normal" fill="#2a2a2a" textLength="42.8" lengthAdjust="spacingAndGlyphs">Drug interruption</text>
<rect x="297.60" y="531.25" width="5.50" height="5.30" fill="#cbcacd"/>
<text x="305.30" y="536.00" font-size="5.9" text-anchor="start" font-weight="normal" fill="#2a2a2a" textLength="34.0" lengthAdjust="spacingAndGlyphs">Off treatment</text>
<rect x="0.5" y="0.5" width="519" height="543" fill="none" stroke="#555" stroke-width="1"/>
</svg>
</body></html>
